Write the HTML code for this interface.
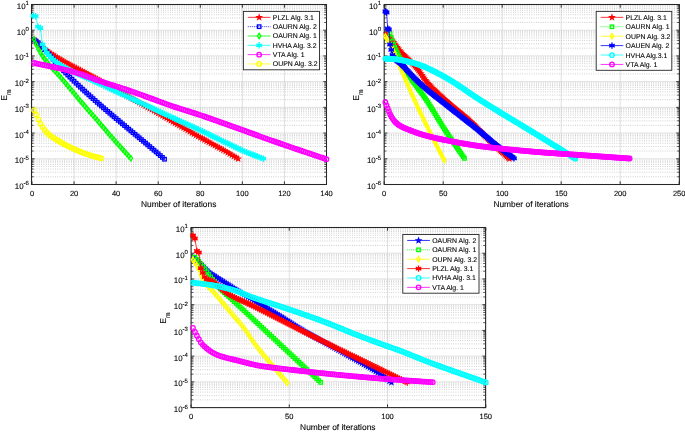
<!DOCTYPE html>
<html><head><meta charset="utf-8"><style>
html,body{margin:0;padding:0;background:#fff;}
svg{display:block;}
text{font-family:"Liberation Sans", sans-serif;fill:#000;stroke:#000;stroke-width:0.1px;text-rendering:geometricPrecision;}
.wrap{will-change:transform;}
</style></head><body>
<div class="wrap"><svg width="685" height="432" viewBox="0 0 685 432">
<rect width="685" height="432" fill="#fff"/>
<defs><marker id="pgr" markerUnits="userSpaceOnUse" viewBox="-5 -5 10 10" markerWidth="10" markerHeight="10" refX="0" refY="0" overflow="visible"><polygon points="0.00,-2.20 0.54,-0.74 2.09,-0.68 0.87,0.28 1.29,1.78 0.00,0.92 -1.29,1.78 -0.87,0.28 -2.09,-0.68 -0.54,-0.74" fill="none" stroke="#ff0000" stroke-width="1.3"/></marker><marker id="sqr" markerUnits="userSpaceOnUse" viewBox="-5 -5 10 10" markerWidth="10" markerHeight="10" refX="0" refY="0" overflow="visible"><rect x="-1.75" y="-1.75" width="3.5" height="3.5" fill="none" stroke="#ff0000" stroke-width="1.3"/></marker><marker id="dir" markerUnits="userSpaceOnUse" viewBox="-5 -5 10 10" markerWidth="10" markerHeight="10" refX="0" refY="0" overflow="visible"><polygon points="0,-2.7 1.6,0 0,2.7 -1.6,0" fill="none" stroke="#ff0000" stroke-width="1.3"/></marker><marker id="asr" markerUnits="userSpaceOnUse" viewBox="-5 -5 10 10" markerWidth="10" markerHeight="10" refX="0" refY="0" overflow="visible"><path d="M0,-3.2V3.2M-2.77,-1.6L2.77,1.6M-2.77,1.6L2.77,-1.6M-2.6,0H2.6" fill="none" stroke="#ff0000" stroke-width="1.3"/><circle r="1.5" fill="#ff0000"/></marker><marker id="cir" markerUnits="userSpaceOnUse" viewBox="-5 -5 10 10" markerWidth="10" markerHeight="10" refX="0" refY="0" overflow="visible"><circle r="2.25" fill="none" stroke="#ff0000" stroke-width="1.3"/></marker><marker id="pgg" markerUnits="userSpaceOnUse" viewBox="-5 -5 10 10" markerWidth="10" markerHeight="10" refX="0" refY="0" overflow="visible"><polygon points="0.00,-2.20 0.54,-0.74 2.09,-0.68 0.87,0.28 1.29,1.78 0.00,0.92 -1.29,1.78 -0.87,0.28 -2.09,-0.68 -0.54,-0.74" fill="none" stroke="#00ff00" stroke-width="1.3"/></marker><marker id="sqg" markerUnits="userSpaceOnUse" viewBox="-5 -5 10 10" markerWidth="10" markerHeight="10" refX="0" refY="0" overflow="visible"><rect x="-1.75" y="-1.75" width="3.5" height="3.5" fill="none" stroke="#00ff00" stroke-width="1.3"/></marker><marker id="dig" markerUnits="userSpaceOnUse" viewBox="-5 -5 10 10" markerWidth="10" markerHeight="10" refX="0" refY="0" overflow="visible"><polygon points="0,-2.7 1.6,0 0,2.7 -1.6,0" fill="none" stroke="#00ff00" stroke-width="1.3"/></marker><marker id="asg" markerUnits="userSpaceOnUse" viewBox="-5 -5 10 10" markerWidth="10" markerHeight="10" refX="0" refY="0" overflow="visible"><path d="M0,-3.2V3.2M-2.77,-1.6L2.77,1.6M-2.77,1.6L2.77,-1.6M-2.6,0H2.6" fill="none" stroke="#00ff00" stroke-width="1.3"/><circle r="1.5" fill="#00ff00"/></marker><marker id="cig" markerUnits="userSpaceOnUse" viewBox="-5 -5 10 10" markerWidth="10" markerHeight="10" refX="0" refY="0" overflow="visible"><circle r="2.25" fill="none" stroke="#00ff00" stroke-width="1.3"/></marker><marker id="pgb" markerUnits="userSpaceOnUse" viewBox="-5 -5 10 10" markerWidth="10" markerHeight="10" refX="0" refY="0" overflow="visible"><polygon points="0.00,-2.20 0.54,-0.74 2.09,-0.68 0.87,0.28 1.29,1.78 0.00,0.92 -1.29,1.78 -0.87,0.28 -2.09,-0.68 -0.54,-0.74" fill="none" stroke="#0000ff" stroke-width="1.3"/></marker><marker id="sqb" markerUnits="userSpaceOnUse" viewBox="-5 -5 10 10" markerWidth="10" markerHeight="10" refX="0" refY="0" overflow="visible"><rect x="-1.75" y="-1.75" width="3.5" height="3.5" fill="none" stroke="#0000ff" stroke-width="1.3"/></marker><marker id="dib" markerUnits="userSpaceOnUse" viewBox="-5 -5 10 10" markerWidth="10" markerHeight="10" refX="0" refY="0" overflow="visible"><polygon points="0,-2.7 1.6,0 0,2.7 -1.6,0" fill="none" stroke="#0000ff" stroke-width="1.3"/></marker><marker id="asb" markerUnits="userSpaceOnUse" viewBox="-5 -5 10 10" markerWidth="10" markerHeight="10" refX="0" refY="0" overflow="visible"><path d="M0,-3.2V3.2M-2.77,-1.6L2.77,1.6M-2.77,1.6L2.77,-1.6M-2.6,0H2.6" fill="none" stroke="#0000ff" stroke-width="1.3"/><circle r="1.5" fill="#0000ff"/></marker><marker id="cib" markerUnits="userSpaceOnUse" viewBox="-5 -5 10 10" markerWidth="10" markerHeight="10" refX="0" refY="0" overflow="visible"><circle r="2.25" fill="none" stroke="#0000ff" stroke-width="1.3"/></marker><marker id="pgc" markerUnits="userSpaceOnUse" viewBox="-5 -5 10 10" markerWidth="10" markerHeight="10" refX="0" refY="0" overflow="visible"><polygon points="0.00,-2.20 0.54,-0.74 2.09,-0.68 0.87,0.28 1.29,1.78 0.00,0.92 -1.29,1.78 -0.87,0.28 -2.09,-0.68 -0.54,-0.74" fill="none" stroke="#00ffff" stroke-width="1.3"/></marker><marker id="sqc" markerUnits="userSpaceOnUse" viewBox="-5 -5 10 10" markerWidth="10" markerHeight="10" refX="0" refY="0" overflow="visible"><rect x="-1.75" y="-1.75" width="3.5" height="3.5" fill="none" stroke="#00ffff" stroke-width="1.3"/></marker><marker id="dic" markerUnits="userSpaceOnUse" viewBox="-5 -5 10 10" markerWidth="10" markerHeight="10" refX="0" refY="0" overflow="visible"><polygon points="0,-2.7 1.6,0 0,2.7 -1.6,0" fill="none" stroke="#00ffff" stroke-width="1.3"/></marker><marker id="asc" markerUnits="userSpaceOnUse" viewBox="-5 -5 10 10" markerWidth="10" markerHeight="10" refX="0" refY="0" overflow="visible"><path d="M0,-3.2V3.2M-2.77,-1.6L2.77,1.6M-2.77,1.6L2.77,-1.6M-2.6,0H2.6" fill="none" stroke="#00ffff" stroke-width="1.3"/><circle r="1.5" fill="#00ffff"/></marker><marker id="cic" markerUnits="userSpaceOnUse" viewBox="-5 -5 10 10" markerWidth="10" markerHeight="10" refX="0" refY="0" overflow="visible"><circle r="2.25" fill="none" stroke="#00ffff" stroke-width="1.3"/></marker><marker id="pgm" markerUnits="userSpaceOnUse" viewBox="-5 -5 10 10" markerWidth="10" markerHeight="10" refX="0" refY="0" overflow="visible"><polygon points="0.00,-2.20 0.54,-0.74 2.09,-0.68 0.87,0.28 1.29,1.78 0.00,0.92 -1.29,1.78 -0.87,0.28 -2.09,-0.68 -0.54,-0.74" fill="none" stroke="#ff00ff" stroke-width="1.3"/></marker><marker id="sqm" markerUnits="userSpaceOnUse" viewBox="-5 -5 10 10" markerWidth="10" markerHeight="10" refX="0" refY="0" overflow="visible"><rect x="-1.75" y="-1.75" width="3.5" height="3.5" fill="none" stroke="#ff00ff" stroke-width="1.3"/></marker><marker id="dim" markerUnits="userSpaceOnUse" viewBox="-5 -5 10 10" markerWidth="10" markerHeight="10" refX="0" refY="0" overflow="visible"><polygon points="0,-2.7 1.6,0 0,2.7 -1.6,0" fill="none" stroke="#ff00ff" stroke-width="1.3"/></marker><marker id="asm" markerUnits="userSpaceOnUse" viewBox="-5 -5 10 10" markerWidth="10" markerHeight="10" refX="0" refY="0" overflow="visible"><path d="M0,-3.2V3.2M-2.77,-1.6L2.77,1.6M-2.77,1.6L2.77,-1.6M-2.6,0H2.6" fill="none" stroke="#ff00ff" stroke-width="1.3"/><circle r="1.5" fill="#ff00ff"/></marker><marker id="cim" markerUnits="userSpaceOnUse" viewBox="-5 -5 10 10" markerWidth="10" markerHeight="10" refX="0" refY="0" overflow="visible"><circle r="2.25" fill="none" stroke="#ff00ff" stroke-width="1.3"/></marker><marker id="pgy" markerUnits="userSpaceOnUse" viewBox="-5 -5 10 10" markerWidth="10" markerHeight="10" refX="0" refY="0" overflow="visible"><polygon points="0.00,-2.20 0.54,-0.74 2.09,-0.68 0.87,0.28 1.29,1.78 0.00,0.92 -1.29,1.78 -0.87,0.28 -2.09,-0.68 -0.54,-0.74" fill="none" stroke="#ffff00" stroke-width="1.3"/></marker><marker id="sqy" markerUnits="userSpaceOnUse" viewBox="-5 -5 10 10" markerWidth="10" markerHeight="10" refX="0" refY="0" overflow="visible"><rect x="-1.75" y="-1.75" width="3.5" height="3.5" fill="none" stroke="#ffff00" stroke-width="1.3"/></marker><marker id="diy" markerUnits="userSpaceOnUse" viewBox="-5 -5 10 10" markerWidth="10" markerHeight="10" refX="0" refY="0" overflow="visible"><polygon points="0,-2.7 1.6,0 0,2.7 -1.6,0" fill="none" stroke="#ffff00" stroke-width="1.3"/></marker><marker id="asy" markerUnits="userSpaceOnUse" viewBox="-5 -5 10 10" markerWidth="10" markerHeight="10" refX="0" refY="0" overflow="visible"><path d="M0,-3.2V3.2M-2.77,-1.6L2.77,1.6M-2.77,1.6L2.77,-1.6M-2.6,0H2.6" fill="none" stroke="#ffff00" stroke-width="1.3"/><circle r="1.5" fill="#ffff00"/></marker><marker id="ciy" markerUnits="userSpaceOnUse" viewBox="-5 -5 10 10" markerWidth="10" markerHeight="10" refX="0" refY="0" overflow="visible"><circle r="2.25" fill="none" stroke="#ffff00" stroke-width="1.3"/></marker></defs>
<line x1="32.00" y1="4.50" x2="326.50" y2="4.50" stroke="#dcdcdc" stroke-width="0.9"/>
<line x1="32.00" y1="30.21" x2="326.50" y2="30.21" stroke="#dcdcdc" stroke-width="0.9"/>
<line x1="32.00" y1="55.93" x2="326.50" y2="55.93" stroke="#dcdcdc" stroke-width="0.9"/>
<line x1="32.00" y1="81.64" x2="326.50" y2="81.64" stroke="#dcdcdc" stroke-width="0.9"/>
<line x1="32.00" y1="107.36" x2="326.50" y2="107.36" stroke="#dcdcdc" stroke-width="0.9"/>
<line x1="32.00" y1="133.07" x2="326.50" y2="133.07" stroke="#dcdcdc" stroke-width="0.9"/>
<line x1="32.00" y1="158.79" x2="326.50" y2="158.79" stroke="#dcdcdc" stroke-width="0.9"/>
<line x1="32.00" y1="184.50" x2="326.50" y2="184.50" stroke="#dcdcdc" stroke-width="0.9"/>
<line x1="32.00" y1="4.50" x2="32.00" y2="184.50" stroke="#dcdcdc" stroke-width="0.9"/>
<line x1="74.07" y1="4.50" x2="74.07" y2="184.50" stroke="#dcdcdc" stroke-width="0.9"/>
<line x1="116.14" y1="4.50" x2="116.14" y2="184.50" stroke="#dcdcdc" stroke-width="0.9"/>
<line x1="158.21" y1="4.50" x2="158.21" y2="184.50" stroke="#dcdcdc" stroke-width="0.9"/>
<line x1="200.29" y1="4.50" x2="200.29" y2="184.50" stroke="#dcdcdc" stroke-width="0.9"/>
<line x1="242.36" y1="4.50" x2="242.36" y2="184.50" stroke="#dcdcdc" stroke-width="0.9"/>
<line x1="284.43" y1="4.50" x2="284.43" y2="184.50" stroke="#dcdcdc" stroke-width="0.9"/>
<line x1="326.50" y1="4.50" x2="326.50" y2="184.50" stroke="#dcdcdc" stroke-width="0.9"/>
<line x1="32.00" y1="22.47" x2="326.50" y2="22.47" stroke="#b8b8b8" stroke-width="0.8" stroke-dasharray="0.8 1.5"/>
<line x1="32.00" y1="17.95" x2="326.50" y2="17.95" stroke="#b8b8b8" stroke-width="0.8" stroke-dasharray="0.8 1.5"/>
<line x1="32.00" y1="14.73" x2="326.50" y2="14.73" stroke="#b8b8b8" stroke-width="0.8" stroke-dasharray="0.8 1.5"/>
<line x1="32.00" y1="12.24" x2="326.50" y2="12.24" stroke="#b8b8b8" stroke-width="0.8" stroke-dasharray="0.8 1.5"/>
<line x1="32.00" y1="10.20" x2="326.50" y2="10.20" stroke="#b8b8b8" stroke-width="0.8" stroke-dasharray="0.8 1.5"/>
<line x1="32.00" y1="8.48" x2="326.50" y2="8.48" stroke="#b8b8b8" stroke-width="0.8" stroke-dasharray="0.8 1.5"/>
<line x1="32.00" y1="6.99" x2="326.50" y2="6.99" stroke="#b8b8b8" stroke-width="0.8" stroke-dasharray="0.8 1.5"/>
<line x1="32.00" y1="5.68" x2="326.50" y2="5.68" stroke="#b8b8b8" stroke-width="0.8" stroke-dasharray="0.8 1.5"/>
<line x1="32.00" y1="48.19" x2="326.50" y2="48.19" stroke="#b8b8b8" stroke-width="0.8" stroke-dasharray="0.8 1.5"/>
<line x1="32.00" y1="43.66" x2="326.50" y2="43.66" stroke="#b8b8b8" stroke-width="0.8" stroke-dasharray="0.8 1.5"/>
<line x1="32.00" y1="40.45" x2="326.50" y2="40.45" stroke="#b8b8b8" stroke-width="0.8" stroke-dasharray="0.8 1.5"/>
<line x1="32.00" y1="37.96" x2="326.50" y2="37.96" stroke="#b8b8b8" stroke-width="0.8" stroke-dasharray="0.8 1.5"/>
<line x1="32.00" y1="35.92" x2="326.50" y2="35.92" stroke="#b8b8b8" stroke-width="0.8" stroke-dasharray="0.8 1.5"/>
<line x1="32.00" y1="34.20" x2="326.50" y2="34.20" stroke="#b8b8b8" stroke-width="0.8" stroke-dasharray="0.8 1.5"/>
<line x1="32.00" y1="32.71" x2="326.50" y2="32.71" stroke="#b8b8b8" stroke-width="0.8" stroke-dasharray="0.8 1.5"/>
<line x1="32.00" y1="31.39" x2="326.50" y2="31.39" stroke="#b8b8b8" stroke-width="0.8" stroke-dasharray="0.8 1.5"/>
<line x1="32.00" y1="73.90" x2="326.50" y2="73.90" stroke="#b8b8b8" stroke-width="0.8" stroke-dasharray="0.8 1.5"/>
<line x1="32.00" y1="69.37" x2="326.50" y2="69.37" stroke="#b8b8b8" stroke-width="0.8" stroke-dasharray="0.8 1.5"/>
<line x1="32.00" y1="66.16" x2="326.50" y2="66.16" stroke="#b8b8b8" stroke-width="0.8" stroke-dasharray="0.8 1.5"/>
<line x1="32.00" y1="63.67" x2="326.50" y2="63.67" stroke="#b8b8b8" stroke-width="0.8" stroke-dasharray="0.8 1.5"/>
<line x1="32.00" y1="61.63" x2="326.50" y2="61.63" stroke="#b8b8b8" stroke-width="0.8" stroke-dasharray="0.8 1.5"/>
<line x1="32.00" y1="59.91" x2="326.50" y2="59.91" stroke="#b8b8b8" stroke-width="0.8" stroke-dasharray="0.8 1.5"/>
<line x1="32.00" y1="58.42" x2="326.50" y2="58.42" stroke="#b8b8b8" stroke-width="0.8" stroke-dasharray="0.8 1.5"/>
<line x1="32.00" y1="57.11" x2="326.50" y2="57.11" stroke="#b8b8b8" stroke-width="0.8" stroke-dasharray="0.8 1.5"/>
<line x1="32.00" y1="99.62" x2="326.50" y2="99.62" stroke="#b8b8b8" stroke-width="0.8" stroke-dasharray="0.8 1.5"/>
<line x1="32.00" y1="95.09" x2="326.50" y2="95.09" stroke="#b8b8b8" stroke-width="0.8" stroke-dasharray="0.8 1.5"/>
<line x1="32.00" y1="91.88" x2="326.50" y2="91.88" stroke="#b8b8b8" stroke-width="0.8" stroke-dasharray="0.8 1.5"/>
<line x1="32.00" y1="89.38" x2="326.50" y2="89.38" stroke="#b8b8b8" stroke-width="0.8" stroke-dasharray="0.8 1.5"/>
<line x1="32.00" y1="87.35" x2="326.50" y2="87.35" stroke="#b8b8b8" stroke-width="0.8" stroke-dasharray="0.8 1.5"/>
<line x1="32.00" y1="85.63" x2="326.50" y2="85.63" stroke="#b8b8b8" stroke-width="0.8" stroke-dasharray="0.8 1.5"/>
<line x1="32.00" y1="84.13" x2="326.50" y2="84.13" stroke="#b8b8b8" stroke-width="0.8" stroke-dasharray="0.8 1.5"/>
<line x1="32.00" y1="82.82" x2="326.50" y2="82.82" stroke="#b8b8b8" stroke-width="0.8" stroke-dasharray="0.8 1.5"/>
<line x1="32.00" y1="125.33" x2="326.50" y2="125.33" stroke="#b8b8b8" stroke-width="0.8" stroke-dasharray="0.8 1.5"/>
<line x1="32.00" y1="120.80" x2="326.50" y2="120.80" stroke="#b8b8b8" stroke-width="0.8" stroke-dasharray="0.8 1.5"/>
<line x1="32.00" y1="117.59" x2="326.50" y2="117.59" stroke="#b8b8b8" stroke-width="0.8" stroke-dasharray="0.8 1.5"/>
<line x1="32.00" y1="115.10" x2="326.50" y2="115.10" stroke="#b8b8b8" stroke-width="0.8" stroke-dasharray="0.8 1.5"/>
<line x1="32.00" y1="113.06" x2="326.50" y2="113.06" stroke="#b8b8b8" stroke-width="0.8" stroke-dasharray="0.8 1.5"/>
<line x1="32.00" y1="111.34" x2="326.50" y2="111.34" stroke="#b8b8b8" stroke-width="0.8" stroke-dasharray="0.8 1.5"/>
<line x1="32.00" y1="109.85" x2="326.50" y2="109.85" stroke="#b8b8b8" stroke-width="0.8" stroke-dasharray="0.8 1.5"/>
<line x1="32.00" y1="108.53" x2="326.50" y2="108.53" stroke="#b8b8b8" stroke-width="0.8" stroke-dasharray="0.8 1.5"/>
<line x1="32.00" y1="151.04" x2="326.50" y2="151.04" stroke="#b8b8b8" stroke-width="0.8" stroke-dasharray="0.8 1.5"/>
<line x1="32.00" y1="146.52" x2="326.50" y2="146.52" stroke="#b8b8b8" stroke-width="0.8" stroke-dasharray="0.8 1.5"/>
<line x1="32.00" y1="143.30" x2="326.50" y2="143.30" stroke="#b8b8b8" stroke-width="0.8" stroke-dasharray="0.8 1.5"/>
<line x1="32.00" y1="140.81" x2="326.50" y2="140.81" stroke="#b8b8b8" stroke-width="0.8" stroke-dasharray="0.8 1.5"/>
<line x1="32.00" y1="138.78" x2="326.50" y2="138.78" stroke="#b8b8b8" stroke-width="0.8" stroke-dasharray="0.8 1.5"/>
<line x1="32.00" y1="137.05" x2="326.50" y2="137.05" stroke="#b8b8b8" stroke-width="0.8" stroke-dasharray="0.8 1.5"/>
<line x1="32.00" y1="135.56" x2="326.50" y2="135.56" stroke="#b8b8b8" stroke-width="0.8" stroke-dasharray="0.8 1.5"/>
<line x1="32.00" y1="134.25" x2="326.50" y2="134.25" stroke="#b8b8b8" stroke-width="0.8" stroke-dasharray="0.8 1.5"/>
<line x1="32.00" y1="176.76" x2="326.50" y2="176.76" stroke="#b8b8b8" stroke-width="0.8" stroke-dasharray="0.8 1.5"/>
<line x1="32.00" y1="172.23" x2="326.50" y2="172.23" stroke="#b8b8b8" stroke-width="0.8" stroke-dasharray="0.8 1.5"/>
<line x1="32.00" y1="169.02" x2="326.50" y2="169.02" stroke="#b8b8b8" stroke-width="0.8" stroke-dasharray="0.8 1.5"/>
<line x1="32.00" y1="166.53" x2="326.50" y2="166.53" stroke="#b8b8b8" stroke-width="0.8" stroke-dasharray="0.8 1.5"/>
<line x1="32.00" y1="164.49" x2="326.50" y2="164.49" stroke="#b8b8b8" stroke-width="0.8" stroke-dasharray="0.8 1.5"/>
<line x1="32.00" y1="162.77" x2="326.50" y2="162.77" stroke="#b8b8b8" stroke-width="0.8" stroke-dasharray="0.8 1.5"/>
<line x1="32.00" y1="161.28" x2="326.50" y2="161.28" stroke="#b8b8b8" stroke-width="0.8" stroke-dasharray="0.8 1.5"/>
<line x1="32.00" y1="159.96" x2="326.50" y2="159.96" stroke="#b8b8b8" stroke-width="0.8" stroke-dasharray="0.8 1.5"/>
<line x1="384.20" y1="4.50" x2="679.20" y2="4.50" stroke="#dcdcdc" stroke-width="0.9"/>
<line x1="384.20" y1="30.21" x2="679.20" y2="30.21" stroke="#dcdcdc" stroke-width="0.9"/>
<line x1="384.20" y1="55.93" x2="679.20" y2="55.93" stroke="#dcdcdc" stroke-width="0.9"/>
<line x1="384.20" y1="81.64" x2="679.20" y2="81.64" stroke="#dcdcdc" stroke-width="0.9"/>
<line x1="384.20" y1="107.36" x2="679.20" y2="107.36" stroke="#dcdcdc" stroke-width="0.9"/>
<line x1="384.20" y1="133.07" x2="679.20" y2="133.07" stroke="#dcdcdc" stroke-width="0.9"/>
<line x1="384.20" y1="158.79" x2="679.20" y2="158.79" stroke="#dcdcdc" stroke-width="0.9"/>
<line x1="384.20" y1="184.50" x2="679.20" y2="184.50" stroke="#dcdcdc" stroke-width="0.9"/>
<line x1="384.20" y1="4.50" x2="384.20" y2="184.50" stroke="#dcdcdc" stroke-width="0.9"/>
<line x1="443.20" y1="4.50" x2="443.20" y2="184.50" stroke="#dcdcdc" stroke-width="0.9"/>
<line x1="502.20" y1="4.50" x2="502.20" y2="184.50" stroke="#dcdcdc" stroke-width="0.9"/>
<line x1="561.20" y1="4.50" x2="561.20" y2="184.50" stroke="#dcdcdc" stroke-width="0.9"/>
<line x1="620.20" y1="4.50" x2="620.20" y2="184.50" stroke="#dcdcdc" stroke-width="0.9"/>
<line x1="679.20" y1="4.50" x2="679.20" y2="184.50" stroke="#dcdcdc" stroke-width="0.9"/>
<line x1="384.20" y1="22.47" x2="679.20" y2="22.47" stroke="#b8b8b8" stroke-width="0.8" stroke-dasharray="0.8 1.5"/>
<line x1="384.20" y1="17.95" x2="679.20" y2="17.95" stroke="#b8b8b8" stroke-width="0.8" stroke-dasharray="0.8 1.5"/>
<line x1="384.20" y1="14.73" x2="679.20" y2="14.73" stroke="#b8b8b8" stroke-width="0.8" stroke-dasharray="0.8 1.5"/>
<line x1="384.20" y1="12.24" x2="679.20" y2="12.24" stroke="#b8b8b8" stroke-width="0.8" stroke-dasharray="0.8 1.5"/>
<line x1="384.20" y1="10.20" x2="679.20" y2="10.20" stroke="#b8b8b8" stroke-width="0.8" stroke-dasharray="0.8 1.5"/>
<line x1="384.20" y1="8.48" x2="679.20" y2="8.48" stroke="#b8b8b8" stroke-width="0.8" stroke-dasharray="0.8 1.5"/>
<line x1="384.20" y1="6.99" x2="679.20" y2="6.99" stroke="#b8b8b8" stroke-width="0.8" stroke-dasharray="0.8 1.5"/>
<line x1="384.20" y1="5.68" x2="679.20" y2="5.68" stroke="#b8b8b8" stroke-width="0.8" stroke-dasharray="0.8 1.5"/>
<line x1="384.20" y1="48.19" x2="679.20" y2="48.19" stroke="#b8b8b8" stroke-width="0.8" stroke-dasharray="0.8 1.5"/>
<line x1="384.20" y1="43.66" x2="679.20" y2="43.66" stroke="#b8b8b8" stroke-width="0.8" stroke-dasharray="0.8 1.5"/>
<line x1="384.20" y1="40.45" x2="679.20" y2="40.45" stroke="#b8b8b8" stroke-width="0.8" stroke-dasharray="0.8 1.5"/>
<line x1="384.20" y1="37.96" x2="679.20" y2="37.96" stroke="#b8b8b8" stroke-width="0.8" stroke-dasharray="0.8 1.5"/>
<line x1="384.20" y1="35.92" x2="679.20" y2="35.92" stroke="#b8b8b8" stroke-width="0.8" stroke-dasharray="0.8 1.5"/>
<line x1="384.20" y1="34.20" x2="679.20" y2="34.20" stroke="#b8b8b8" stroke-width="0.8" stroke-dasharray="0.8 1.5"/>
<line x1="384.20" y1="32.71" x2="679.20" y2="32.71" stroke="#b8b8b8" stroke-width="0.8" stroke-dasharray="0.8 1.5"/>
<line x1="384.20" y1="31.39" x2="679.20" y2="31.39" stroke="#b8b8b8" stroke-width="0.8" stroke-dasharray="0.8 1.5"/>
<line x1="384.20" y1="73.90" x2="679.20" y2="73.90" stroke="#b8b8b8" stroke-width="0.8" stroke-dasharray="0.8 1.5"/>
<line x1="384.20" y1="69.37" x2="679.20" y2="69.37" stroke="#b8b8b8" stroke-width="0.8" stroke-dasharray="0.8 1.5"/>
<line x1="384.20" y1="66.16" x2="679.20" y2="66.16" stroke="#b8b8b8" stroke-width="0.8" stroke-dasharray="0.8 1.5"/>
<line x1="384.20" y1="63.67" x2="679.20" y2="63.67" stroke="#b8b8b8" stroke-width="0.8" stroke-dasharray="0.8 1.5"/>
<line x1="384.20" y1="61.63" x2="679.20" y2="61.63" stroke="#b8b8b8" stroke-width="0.8" stroke-dasharray="0.8 1.5"/>
<line x1="384.20" y1="59.91" x2="679.20" y2="59.91" stroke="#b8b8b8" stroke-width="0.8" stroke-dasharray="0.8 1.5"/>
<line x1="384.20" y1="58.42" x2="679.20" y2="58.42" stroke="#b8b8b8" stroke-width="0.8" stroke-dasharray="0.8 1.5"/>
<line x1="384.20" y1="57.11" x2="679.20" y2="57.11" stroke="#b8b8b8" stroke-width="0.8" stroke-dasharray="0.8 1.5"/>
<line x1="384.20" y1="99.62" x2="679.20" y2="99.62" stroke="#b8b8b8" stroke-width="0.8" stroke-dasharray="0.8 1.5"/>
<line x1="384.20" y1="95.09" x2="679.20" y2="95.09" stroke="#b8b8b8" stroke-width="0.8" stroke-dasharray="0.8 1.5"/>
<line x1="384.20" y1="91.88" x2="679.20" y2="91.88" stroke="#b8b8b8" stroke-width="0.8" stroke-dasharray="0.8 1.5"/>
<line x1="384.20" y1="89.38" x2="679.20" y2="89.38" stroke="#b8b8b8" stroke-width="0.8" stroke-dasharray="0.8 1.5"/>
<line x1="384.20" y1="87.35" x2="679.20" y2="87.35" stroke="#b8b8b8" stroke-width="0.8" stroke-dasharray="0.8 1.5"/>
<line x1="384.20" y1="85.63" x2="679.20" y2="85.63" stroke="#b8b8b8" stroke-width="0.8" stroke-dasharray="0.8 1.5"/>
<line x1="384.20" y1="84.13" x2="679.20" y2="84.13" stroke="#b8b8b8" stroke-width="0.8" stroke-dasharray="0.8 1.5"/>
<line x1="384.20" y1="82.82" x2="679.20" y2="82.82" stroke="#b8b8b8" stroke-width="0.8" stroke-dasharray="0.8 1.5"/>
<line x1="384.20" y1="125.33" x2="679.20" y2="125.33" stroke="#b8b8b8" stroke-width="0.8" stroke-dasharray="0.8 1.5"/>
<line x1="384.20" y1="120.80" x2="679.20" y2="120.80" stroke="#b8b8b8" stroke-width="0.8" stroke-dasharray="0.8 1.5"/>
<line x1="384.20" y1="117.59" x2="679.20" y2="117.59" stroke="#b8b8b8" stroke-width="0.8" stroke-dasharray="0.8 1.5"/>
<line x1="384.20" y1="115.10" x2="679.20" y2="115.10" stroke="#b8b8b8" stroke-width="0.8" stroke-dasharray="0.8 1.5"/>
<line x1="384.20" y1="113.06" x2="679.20" y2="113.06" stroke="#b8b8b8" stroke-width="0.8" stroke-dasharray="0.8 1.5"/>
<line x1="384.20" y1="111.34" x2="679.20" y2="111.34" stroke="#b8b8b8" stroke-width="0.8" stroke-dasharray="0.8 1.5"/>
<line x1="384.20" y1="109.85" x2="679.20" y2="109.85" stroke="#b8b8b8" stroke-width="0.8" stroke-dasharray="0.8 1.5"/>
<line x1="384.20" y1="108.53" x2="679.20" y2="108.53" stroke="#b8b8b8" stroke-width="0.8" stroke-dasharray="0.8 1.5"/>
<line x1="384.20" y1="151.04" x2="679.20" y2="151.04" stroke="#b8b8b8" stroke-width="0.8" stroke-dasharray="0.8 1.5"/>
<line x1="384.20" y1="146.52" x2="679.20" y2="146.52" stroke="#b8b8b8" stroke-width="0.8" stroke-dasharray="0.8 1.5"/>
<line x1="384.20" y1="143.30" x2="679.20" y2="143.30" stroke="#b8b8b8" stroke-width="0.8" stroke-dasharray="0.8 1.5"/>
<line x1="384.20" y1="140.81" x2="679.20" y2="140.81" stroke="#b8b8b8" stroke-width="0.8" stroke-dasharray="0.8 1.5"/>
<line x1="384.20" y1="138.78" x2="679.20" y2="138.78" stroke="#b8b8b8" stroke-width="0.8" stroke-dasharray="0.8 1.5"/>
<line x1="384.20" y1="137.05" x2="679.20" y2="137.05" stroke="#b8b8b8" stroke-width="0.8" stroke-dasharray="0.8 1.5"/>
<line x1="384.20" y1="135.56" x2="679.20" y2="135.56" stroke="#b8b8b8" stroke-width="0.8" stroke-dasharray="0.8 1.5"/>
<line x1="384.20" y1="134.25" x2="679.20" y2="134.25" stroke="#b8b8b8" stroke-width="0.8" stroke-dasharray="0.8 1.5"/>
<line x1="384.20" y1="176.76" x2="679.20" y2="176.76" stroke="#b8b8b8" stroke-width="0.8" stroke-dasharray="0.8 1.5"/>
<line x1="384.20" y1="172.23" x2="679.20" y2="172.23" stroke="#b8b8b8" stroke-width="0.8" stroke-dasharray="0.8 1.5"/>
<line x1="384.20" y1="169.02" x2="679.20" y2="169.02" stroke="#b8b8b8" stroke-width="0.8" stroke-dasharray="0.8 1.5"/>
<line x1="384.20" y1="166.53" x2="679.20" y2="166.53" stroke="#b8b8b8" stroke-width="0.8" stroke-dasharray="0.8 1.5"/>
<line x1="384.20" y1="164.49" x2="679.20" y2="164.49" stroke="#b8b8b8" stroke-width="0.8" stroke-dasharray="0.8 1.5"/>
<line x1="384.20" y1="162.77" x2="679.20" y2="162.77" stroke="#b8b8b8" stroke-width="0.8" stroke-dasharray="0.8 1.5"/>
<line x1="384.20" y1="161.28" x2="679.20" y2="161.28" stroke="#b8b8b8" stroke-width="0.8" stroke-dasharray="0.8 1.5"/>
<line x1="384.20" y1="159.96" x2="679.20" y2="159.96" stroke="#b8b8b8" stroke-width="0.8" stroke-dasharray="0.8 1.5"/>
<line x1="191.00" y1="227.50" x2="485.80" y2="227.50" stroke="#dcdcdc" stroke-width="0.9"/>
<line x1="191.00" y1="253.23" x2="485.80" y2="253.23" stroke="#dcdcdc" stroke-width="0.9"/>
<line x1="191.00" y1="278.96" x2="485.80" y2="278.96" stroke="#dcdcdc" stroke-width="0.9"/>
<line x1="191.00" y1="304.69" x2="485.80" y2="304.69" stroke="#dcdcdc" stroke-width="0.9"/>
<line x1="191.00" y1="330.41" x2="485.80" y2="330.41" stroke="#dcdcdc" stroke-width="0.9"/>
<line x1="191.00" y1="356.14" x2="485.80" y2="356.14" stroke="#dcdcdc" stroke-width="0.9"/>
<line x1="191.00" y1="381.87" x2="485.80" y2="381.87" stroke="#dcdcdc" stroke-width="0.9"/>
<line x1="191.00" y1="407.60" x2="485.80" y2="407.60" stroke="#dcdcdc" stroke-width="0.9"/>
<line x1="191.00" y1="227.50" x2="191.00" y2="407.60" stroke="#dcdcdc" stroke-width="0.9"/>
<line x1="289.27" y1="227.50" x2="289.27" y2="407.60" stroke="#dcdcdc" stroke-width="0.9"/>
<line x1="387.53" y1="227.50" x2="387.53" y2="407.60" stroke="#dcdcdc" stroke-width="0.9"/>
<line x1="485.80" y1="227.50" x2="485.80" y2="407.60" stroke="#dcdcdc" stroke-width="0.9"/>
<line x1="191.00" y1="245.48" x2="485.80" y2="245.48" stroke="#b8b8b8" stroke-width="0.8" stroke-dasharray="0.8 1.5"/>
<line x1="191.00" y1="240.95" x2="485.80" y2="240.95" stroke="#b8b8b8" stroke-width="0.8" stroke-dasharray="0.8 1.5"/>
<line x1="191.00" y1="237.74" x2="485.80" y2="237.74" stroke="#b8b8b8" stroke-width="0.8" stroke-dasharray="0.8 1.5"/>
<line x1="191.00" y1="235.25" x2="485.80" y2="235.25" stroke="#b8b8b8" stroke-width="0.8" stroke-dasharray="0.8 1.5"/>
<line x1="191.00" y1="233.21" x2="485.80" y2="233.21" stroke="#b8b8b8" stroke-width="0.8" stroke-dasharray="0.8 1.5"/>
<line x1="191.00" y1="231.49" x2="485.80" y2="231.49" stroke="#b8b8b8" stroke-width="0.8" stroke-dasharray="0.8 1.5"/>
<line x1="191.00" y1="229.99" x2="485.80" y2="229.99" stroke="#b8b8b8" stroke-width="0.8" stroke-dasharray="0.8 1.5"/>
<line x1="191.00" y1="228.68" x2="485.80" y2="228.68" stroke="#b8b8b8" stroke-width="0.8" stroke-dasharray="0.8 1.5"/>
<line x1="191.00" y1="271.21" x2="485.80" y2="271.21" stroke="#b8b8b8" stroke-width="0.8" stroke-dasharray="0.8 1.5"/>
<line x1="191.00" y1="266.68" x2="485.80" y2="266.68" stroke="#b8b8b8" stroke-width="0.8" stroke-dasharray="0.8 1.5"/>
<line x1="191.00" y1="263.47" x2="485.80" y2="263.47" stroke="#b8b8b8" stroke-width="0.8" stroke-dasharray="0.8 1.5"/>
<line x1="191.00" y1="260.97" x2="485.80" y2="260.97" stroke="#b8b8b8" stroke-width="0.8" stroke-dasharray="0.8 1.5"/>
<line x1="191.00" y1="258.94" x2="485.80" y2="258.94" stroke="#b8b8b8" stroke-width="0.8" stroke-dasharray="0.8 1.5"/>
<line x1="191.00" y1="257.21" x2="485.80" y2="257.21" stroke="#b8b8b8" stroke-width="0.8" stroke-dasharray="0.8 1.5"/>
<line x1="191.00" y1="255.72" x2="485.80" y2="255.72" stroke="#b8b8b8" stroke-width="0.8" stroke-dasharray="0.8 1.5"/>
<line x1="191.00" y1="254.41" x2="485.80" y2="254.41" stroke="#b8b8b8" stroke-width="0.8" stroke-dasharray="0.8 1.5"/>
<line x1="191.00" y1="296.94" x2="485.80" y2="296.94" stroke="#b8b8b8" stroke-width="0.8" stroke-dasharray="0.8 1.5"/>
<line x1="191.00" y1="292.41" x2="485.80" y2="292.41" stroke="#b8b8b8" stroke-width="0.8" stroke-dasharray="0.8 1.5"/>
<line x1="191.00" y1="289.20" x2="485.80" y2="289.20" stroke="#b8b8b8" stroke-width="0.8" stroke-dasharray="0.8 1.5"/>
<line x1="191.00" y1="286.70" x2="485.80" y2="286.70" stroke="#b8b8b8" stroke-width="0.8" stroke-dasharray="0.8 1.5"/>
<line x1="191.00" y1="284.66" x2="485.80" y2="284.66" stroke="#b8b8b8" stroke-width="0.8" stroke-dasharray="0.8 1.5"/>
<line x1="191.00" y1="282.94" x2="485.80" y2="282.94" stroke="#b8b8b8" stroke-width="0.8" stroke-dasharray="0.8 1.5"/>
<line x1="191.00" y1="281.45" x2="485.80" y2="281.45" stroke="#b8b8b8" stroke-width="0.8" stroke-dasharray="0.8 1.5"/>
<line x1="191.00" y1="280.13" x2="485.80" y2="280.13" stroke="#b8b8b8" stroke-width="0.8" stroke-dasharray="0.8 1.5"/>
<line x1="191.00" y1="322.67" x2="485.80" y2="322.67" stroke="#b8b8b8" stroke-width="0.8" stroke-dasharray="0.8 1.5"/>
<line x1="191.00" y1="318.14" x2="485.80" y2="318.14" stroke="#b8b8b8" stroke-width="0.8" stroke-dasharray="0.8 1.5"/>
<line x1="191.00" y1="314.92" x2="485.80" y2="314.92" stroke="#b8b8b8" stroke-width="0.8" stroke-dasharray="0.8 1.5"/>
<line x1="191.00" y1="312.43" x2="485.80" y2="312.43" stroke="#b8b8b8" stroke-width="0.8" stroke-dasharray="0.8 1.5"/>
<line x1="191.00" y1="310.39" x2="485.80" y2="310.39" stroke="#b8b8b8" stroke-width="0.8" stroke-dasharray="0.8 1.5"/>
<line x1="191.00" y1="308.67" x2="485.80" y2="308.67" stroke="#b8b8b8" stroke-width="0.8" stroke-dasharray="0.8 1.5"/>
<line x1="191.00" y1="307.18" x2="485.80" y2="307.18" stroke="#b8b8b8" stroke-width="0.8" stroke-dasharray="0.8 1.5"/>
<line x1="191.00" y1="305.86" x2="485.80" y2="305.86" stroke="#b8b8b8" stroke-width="0.8" stroke-dasharray="0.8 1.5"/>
<line x1="191.00" y1="348.40" x2="485.80" y2="348.40" stroke="#b8b8b8" stroke-width="0.8" stroke-dasharray="0.8 1.5"/>
<line x1="191.00" y1="343.87" x2="485.80" y2="343.87" stroke="#b8b8b8" stroke-width="0.8" stroke-dasharray="0.8 1.5"/>
<line x1="191.00" y1="340.65" x2="485.80" y2="340.65" stroke="#b8b8b8" stroke-width="0.8" stroke-dasharray="0.8 1.5"/>
<line x1="191.00" y1="338.16" x2="485.80" y2="338.16" stroke="#b8b8b8" stroke-width="0.8" stroke-dasharray="0.8 1.5"/>
<line x1="191.00" y1="336.12" x2="485.80" y2="336.12" stroke="#b8b8b8" stroke-width="0.8" stroke-dasharray="0.8 1.5"/>
<line x1="191.00" y1="334.40" x2="485.80" y2="334.40" stroke="#b8b8b8" stroke-width="0.8" stroke-dasharray="0.8 1.5"/>
<line x1="191.00" y1="332.91" x2="485.80" y2="332.91" stroke="#b8b8b8" stroke-width="0.8" stroke-dasharray="0.8 1.5"/>
<line x1="191.00" y1="331.59" x2="485.80" y2="331.59" stroke="#b8b8b8" stroke-width="0.8" stroke-dasharray="0.8 1.5"/>
<line x1="191.00" y1="374.13" x2="485.80" y2="374.13" stroke="#b8b8b8" stroke-width="0.8" stroke-dasharray="0.8 1.5"/>
<line x1="191.00" y1="369.60" x2="485.80" y2="369.60" stroke="#b8b8b8" stroke-width="0.8" stroke-dasharray="0.8 1.5"/>
<line x1="191.00" y1="366.38" x2="485.80" y2="366.38" stroke="#b8b8b8" stroke-width="0.8" stroke-dasharray="0.8 1.5"/>
<line x1="191.00" y1="363.89" x2="485.80" y2="363.89" stroke="#b8b8b8" stroke-width="0.8" stroke-dasharray="0.8 1.5"/>
<line x1="191.00" y1="361.85" x2="485.80" y2="361.85" stroke="#b8b8b8" stroke-width="0.8" stroke-dasharray="0.8 1.5"/>
<line x1="191.00" y1="360.13" x2="485.80" y2="360.13" stroke="#b8b8b8" stroke-width="0.8" stroke-dasharray="0.8 1.5"/>
<line x1="191.00" y1="358.64" x2="485.80" y2="358.64" stroke="#b8b8b8" stroke-width="0.8" stroke-dasharray="0.8 1.5"/>
<line x1="191.00" y1="357.32" x2="485.80" y2="357.32" stroke="#b8b8b8" stroke-width="0.8" stroke-dasharray="0.8 1.5"/>
<line x1="191.00" y1="399.85" x2="485.80" y2="399.85" stroke="#b8b8b8" stroke-width="0.8" stroke-dasharray="0.8 1.5"/>
<line x1="191.00" y1="395.32" x2="485.80" y2="395.32" stroke="#b8b8b8" stroke-width="0.8" stroke-dasharray="0.8 1.5"/>
<line x1="191.00" y1="392.11" x2="485.80" y2="392.11" stroke="#b8b8b8" stroke-width="0.8" stroke-dasharray="0.8 1.5"/>
<line x1="191.00" y1="389.62" x2="485.80" y2="389.62" stroke="#b8b8b8" stroke-width="0.8" stroke-dasharray="0.8 1.5"/>
<line x1="191.00" y1="387.58" x2="485.80" y2="387.58" stroke="#b8b8b8" stroke-width="0.8" stroke-dasharray="0.8 1.5"/>
<line x1="191.00" y1="385.86" x2="485.80" y2="385.86" stroke="#b8b8b8" stroke-width="0.8" stroke-dasharray="0.8 1.5"/>
<line x1="191.00" y1="384.36" x2="485.80" y2="384.36" stroke="#b8b8b8" stroke-width="0.8" stroke-dasharray="0.8 1.5"/>
<line x1="191.00" y1="383.05" x2="485.80" y2="383.05" stroke="#b8b8b8" stroke-width="0.8" stroke-dasharray="0.8 1.5"/>
<line x1="31.50" y1="4.50" x2="34.70" y2="4.50" stroke="#262626" stroke-width="0.9"/>
<line x1="326.50" y1="4.50" x2="323.30" y2="4.50" stroke="#262626" stroke-width="0.9"/>
<line x1="31.50" y1="22.47" x2="33.70" y2="22.47" stroke="#262626" stroke-width="0.8"/>
<line x1="326.50" y1="22.47" x2="324.30" y2="22.47" stroke="#262626" stroke-width="0.8"/>
<line x1="31.50" y1="17.95" x2="33.70" y2="17.95" stroke="#262626" stroke-width="0.8"/>
<line x1="326.50" y1="17.95" x2="324.30" y2="17.95" stroke="#262626" stroke-width="0.8"/>
<line x1="31.50" y1="14.73" x2="33.70" y2="14.73" stroke="#262626" stroke-width="0.8"/>
<line x1="326.50" y1="14.73" x2="324.30" y2="14.73" stroke="#262626" stroke-width="0.8"/>
<line x1="31.50" y1="12.24" x2="33.70" y2="12.24" stroke="#262626" stroke-width="0.8"/>
<line x1="326.50" y1="12.24" x2="324.30" y2="12.24" stroke="#262626" stroke-width="0.8"/>
<line x1="31.50" y1="10.20" x2="33.70" y2="10.20" stroke="#262626" stroke-width="0.8"/>
<line x1="326.50" y1="10.20" x2="324.30" y2="10.20" stroke="#262626" stroke-width="0.8"/>
<line x1="31.50" y1="8.48" x2="33.70" y2="8.48" stroke="#262626" stroke-width="0.8"/>
<line x1="326.50" y1="8.48" x2="324.30" y2="8.48" stroke="#262626" stroke-width="0.8"/>
<line x1="31.50" y1="6.99" x2="33.70" y2="6.99" stroke="#262626" stroke-width="0.8"/>
<line x1="326.50" y1="6.99" x2="324.30" y2="6.99" stroke="#262626" stroke-width="0.8"/>
<line x1="31.50" y1="5.68" x2="33.70" y2="5.68" stroke="#262626" stroke-width="0.8"/>
<line x1="326.50" y1="5.68" x2="324.30" y2="5.68" stroke="#262626" stroke-width="0.8"/>
<line x1="31.50" y1="30.21" x2="34.70" y2="30.21" stroke="#262626" stroke-width="0.9"/>
<line x1="326.50" y1="30.21" x2="323.30" y2="30.21" stroke="#262626" stroke-width="0.9"/>
<line x1="31.50" y1="48.19" x2="33.70" y2="48.19" stroke="#262626" stroke-width="0.8"/>
<line x1="326.50" y1="48.19" x2="324.30" y2="48.19" stroke="#262626" stroke-width="0.8"/>
<line x1="31.50" y1="43.66" x2="33.70" y2="43.66" stroke="#262626" stroke-width="0.8"/>
<line x1="326.50" y1="43.66" x2="324.30" y2="43.66" stroke="#262626" stroke-width="0.8"/>
<line x1="31.50" y1="40.45" x2="33.70" y2="40.45" stroke="#262626" stroke-width="0.8"/>
<line x1="326.50" y1="40.45" x2="324.30" y2="40.45" stroke="#262626" stroke-width="0.8"/>
<line x1="31.50" y1="37.96" x2="33.70" y2="37.96" stroke="#262626" stroke-width="0.8"/>
<line x1="326.50" y1="37.96" x2="324.30" y2="37.96" stroke="#262626" stroke-width="0.8"/>
<line x1="31.50" y1="35.92" x2="33.70" y2="35.92" stroke="#262626" stroke-width="0.8"/>
<line x1="326.50" y1="35.92" x2="324.30" y2="35.92" stroke="#262626" stroke-width="0.8"/>
<line x1="31.50" y1="34.20" x2="33.70" y2="34.20" stroke="#262626" stroke-width="0.8"/>
<line x1="326.50" y1="34.20" x2="324.30" y2="34.20" stroke="#262626" stroke-width="0.8"/>
<line x1="31.50" y1="32.71" x2="33.70" y2="32.71" stroke="#262626" stroke-width="0.8"/>
<line x1="326.50" y1="32.71" x2="324.30" y2="32.71" stroke="#262626" stroke-width="0.8"/>
<line x1="31.50" y1="31.39" x2="33.70" y2="31.39" stroke="#262626" stroke-width="0.8"/>
<line x1="326.50" y1="31.39" x2="324.30" y2="31.39" stroke="#262626" stroke-width="0.8"/>
<line x1="31.50" y1="55.93" x2="34.70" y2="55.93" stroke="#262626" stroke-width="0.9"/>
<line x1="326.50" y1="55.93" x2="323.30" y2="55.93" stroke="#262626" stroke-width="0.9"/>
<line x1="31.50" y1="73.90" x2="33.70" y2="73.90" stroke="#262626" stroke-width="0.8"/>
<line x1="326.50" y1="73.90" x2="324.30" y2="73.90" stroke="#262626" stroke-width="0.8"/>
<line x1="31.50" y1="69.37" x2="33.70" y2="69.37" stroke="#262626" stroke-width="0.8"/>
<line x1="326.50" y1="69.37" x2="324.30" y2="69.37" stroke="#262626" stroke-width="0.8"/>
<line x1="31.50" y1="66.16" x2="33.70" y2="66.16" stroke="#262626" stroke-width="0.8"/>
<line x1="326.50" y1="66.16" x2="324.30" y2="66.16" stroke="#262626" stroke-width="0.8"/>
<line x1="31.50" y1="63.67" x2="33.70" y2="63.67" stroke="#262626" stroke-width="0.8"/>
<line x1="326.50" y1="63.67" x2="324.30" y2="63.67" stroke="#262626" stroke-width="0.8"/>
<line x1="31.50" y1="61.63" x2="33.70" y2="61.63" stroke="#262626" stroke-width="0.8"/>
<line x1="326.50" y1="61.63" x2="324.30" y2="61.63" stroke="#262626" stroke-width="0.8"/>
<line x1="31.50" y1="59.91" x2="33.70" y2="59.91" stroke="#262626" stroke-width="0.8"/>
<line x1="326.50" y1="59.91" x2="324.30" y2="59.91" stroke="#262626" stroke-width="0.8"/>
<line x1="31.50" y1="58.42" x2="33.70" y2="58.42" stroke="#262626" stroke-width="0.8"/>
<line x1="326.50" y1="58.42" x2="324.30" y2="58.42" stroke="#262626" stroke-width="0.8"/>
<line x1="31.50" y1="57.11" x2="33.70" y2="57.11" stroke="#262626" stroke-width="0.8"/>
<line x1="326.50" y1="57.11" x2="324.30" y2="57.11" stroke="#262626" stroke-width="0.8"/>
<line x1="31.50" y1="81.64" x2="34.70" y2="81.64" stroke="#262626" stroke-width="0.9"/>
<line x1="326.50" y1="81.64" x2="323.30" y2="81.64" stroke="#262626" stroke-width="0.9"/>
<line x1="31.50" y1="99.62" x2="33.70" y2="99.62" stroke="#262626" stroke-width="0.8"/>
<line x1="326.50" y1="99.62" x2="324.30" y2="99.62" stroke="#262626" stroke-width="0.8"/>
<line x1="31.50" y1="95.09" x2="33.70" y2="95.09" stroke="#262626" stroke-width="0.8"/>
<line x1="326.50" y1="95.09" x2="324.30" y2="95.09" stroke="#262626" stroke-width="0.8"/>
<line x1="31.50" y1="91.88" x2="33.70" y2="91.88" stroke="#262626" stroke-width="0.8"/>
<line x1="326.50" y1="91.88" x2="324.30" y2="91.88" stroke="#262626" stroke-width="0.8"/>
<line x1="31.50" y1="89.38" x2="33.70" y2="89.38" stroke="#262626" stroke-width="0.8"/>
<line x1="326.50" y1="89.38" x2="324.30" y2="89.38" stroke="#262626" stroke-width="0.8"/>
<line x1="31.50" y1="87.35" x2="33.70" y2="87.35" stroke="#262626" stroke-width="0.8"/>
<line x1="326.50" y1="87.35" x2="324.30" y2="87.35" stroke="#262626" stroke-width="0.8"/>
<line x1="31.50" y1="85.63" x2="33.70" y2="85.63" stroke="#262626" stroke-width="0.8"/>
<line x1="326.50" y1="85.63" x2="324.30" y2="85.63" stroke="#262626" stroke-width="0.8"/>
<line x1="31.50" y1="84.13" x2="33.70" y2="84.13" stroke="#262626" stroke-width="0.8"/>
<line x1="326.50" y1="84.13" x2="324.30" y2="84.13" stroke="#262626" stroke-width="0.8"/>
<line x1="31.50" y1="82.82" x2="33.70" y2="82.82" stroke="#262626" stroke-width="0.8"/>
<line x1="326.50" y1="82.82" x2="324.30" y2="82.82" stroke="#262626" stroke-width="0.8"/>
<line x1="31.50" y1="107.36" x2="34.70" y2="107.36" stroke="#262626" stroke-width="0.9"/>
<line x1="326.50" y1="107.36" x2="323.30" y2="107.36" stroke="#262626" stroke-width="0.9"/>
<line x1="31.50" y1="125.33" x2="33.70" y2="125.33" stroke="#262626" stroke-width="0.8"/>
<line x1="326.50" y1="125.33" x2="324.30" y2="125.33" stroke="#262626" stroke-width="0.8"/>
<line x1="31.50" y1="120.80" x2="33.70" y2="120.80" stroke="#262626" stroke-width="0.8"/>
<line x1="326.50" y1="120.80" x2="324.30" y2="120.80" stroke="#262626" stroke-width="0.8"/>
<line x1="31.50" y1="117.59" x2="33.70" y2="117.59" stroke="#262626" stroke-width="0.8"/>
<line x1="326.50" y1="117.59" x2="324.30" y2="117.59" stroke="#262626" stroke-width="0.8"/>
<line x1="31.50" y1="115.10" x2="33.70" y2="115.10" stroke="#262626" stroke-width="0.8"/>
<line x1="326.50" y1="115.10" x2="324.30" y2="115.10" stroke="#262626" stroke-width="0.8"/>
<line x1="31.50" y1="113.06" x2="33.70" y2="113.06" stroke="#262626" stroke-width="0.8"/>
<line x1="326.50" y1="113.06" x2="324.30" y2="113.06" stroke="#262626" stroke-width="0.8"/>
<line x1="31.50" y1="111.34" x2="33.70" y2="111.34" stroke="#262626" stroke-width="0.8"/>
<line x1="326.50" y1="111.34" x2="324.30" y2="111.34" stroke="#262626" stroke-width="0.8"/>
<line x1="31.50" y1="109.85" x2="33.70" y2="109.85" stroke="#262626" stroke-width="0.8"/>
<line x1="326.50" y1="109.85" x2="324.30" y2="109.85" stroke="#262626" stroke-width="0.8"/>
<line x1="31.50" y1="108.53" x2="33.70" y2="108.53" stroke="#262626" stroke-width="0.8"/>
<line x1="326.50" y1="108.53" x2="324.30" y2="108.53" stroke="#262626" stroke-width="0.8"/>
<line x1="31.50" y1="133.07" x2="34.70" y2="133.07" stroke="#262626" stroke-width="0.9"/>
<line x1="326.50" y1="133.07" x2="323.30" y2="133.07" stroke="#262626" stroke-width="0.9"/>
<line x1="31.50" y1="151.04" x2="33.70" y2="151.04" stroke="#262626" stroke-width="0.8"/>
<line x1="326.50" y1="151.04" x2="324.30" y2="151.04" stroke="#262626" stroke-width="0.8"/>
<line x1="31.50" y1="146.52" x2="33.70" y2="146.52" stroke="#262626" stroke-width="0.8"/>
<line x1="326.50" y1="146.52" x2="324.30" y2="146.52" stroke="#262626" stroke-width="0.8"/>
<line x1="31.50" y1="143.30" x2="33.70" y2="143.30" stroke="#262626" stroke-width="0.8"/>
<line x1="326.50" y1="143.30" x2="324.30" y2="143.30" stroke="#262626" stroke-width="0.8"/>
<line x1="31.50" y1="140.81" x2="33.70" y2="140.81" stroke="#262626" stroke-width="0.8"/>
<line x1="326.50" y1="140.81" x2="324.30" y2="140.81" stroke="#262626" stroke-width="0.8"/>
<line x1="31.50" y1="138.78" x2="33.70" y2="138.78" stroke="#262626" stroke-width="0.8"/>
<line x1="326.50" y1="138.78" x2="324.30" y2="138.78" stroke="#262626" stroke-width="0.8"/>
<line x1="31.50" y1="137.05" x2="33.70" y2="137.05" stroke="#262626" stroke-width="0.8"/>
<line x1="326.50" y1="137.05" x2="324.30" y2="137.05" stroke="#262626" stroke-width="0.8"/>
<line x1="31.50" y1="135.56" x2="33.70" y2="135.56" stroke="#262626" stroke-width="0.8"/>
<line x1="326.50" y1="135.56" x2="324.30" y2="135.56" stroke="#262626" stroke-width="0.8"/>
<line x1="31.50" y1="134.25" x2="33.70" y2="134.25" stroke="#262626" stroke-width="0.8"/>
<line x1="326.50" y1="134.25" x2="324.30" y2="134.25" stroke="#262626" stroke-width="0.8"/>
<line x1="31.50" y1="158.79" x2="34.70" y2="158.79" stroke="#262626" stroke-width="0.9"/>
<line x1="326.50" y1="158.79" x2="323.30" y2="158.79" stroke="#262626" stroke-width="0.9"/>
<line x1="31.50" y1="176.76" x2="33.70" y2="176.76" stroke="#262626" stroke-width="0.8"/>
<line x1="326.50" y1="176.76" x2="324.30" y2="176.76" stroke="#262626" stroke-width="0.8"/>
<line x1="31.50" y1="172.23" x2="33.70" y2="172.23" stroke="#262626" stroke-width="0.8"/>
<line x1="326.50" y1="172.23" x2="324.30" y2="172.23" stroke="#262626" stroke-width="0.8"/>
<line x1="31.50" y1="169.02" x2="33.70" y2="169.02" stroke="#262626" stroke-width="0.8"/>
<line x1="326.50" y1="169.02" x2="324.30" y2="169.02" stroke="#262626" stroke-width="0.8"/>
<line x1="31.50" y1="166.53" x2="33.70" y2="166.53" stroke="#262626" stroke-width="0.8"/>
<line x1="326.50" y1="166.53" x2="324.30" y2="166.53" stroke="#262626" stroke-width="0.8"/>
<line x1="31.50" y1="164.49" x2="33.70" y2="164.49" stroke="#262626" stroke-width="0.8"/>
<line x1="326.50" y1="164.49" x2="324.30" y2="164.49" stroke="#262626" stroke-width="0.8"/>
<line x1="31.50" y1="162.77" x2="33.70" y2="162.77" stroke="#262626" stroke-width="0.8"/>
<line x1="326.50" y1="162.77" x2="324.30" y2="162.77" stroke="#262626" stroke-width="0.8"/>
<line x1="31.50" y1="161.28" x2="33.70" y2="161.28" stroke="#262626" stroke-width="0.8"/>
<line x1="326.50" y1="161.28" x2="324.30" y2="161.28" stroke="#262626" stroke-width="0.8"/>
<line x1="31.50" y1="159.96" x2="33.70" y2="159.96" stroke="#262626" stroke-width="0.8"/>
<line x1="326.50" y1="159.96" x2="324.30" y2="159.96" stroke="#262626" stroke-width="0.8"/>
<line x1="31.50" y1="184.50" x2="34.70" y2="184.50" stroke="#262626" stroke-width="0.9"/>
<line x1="326.50" y1="184.50" x2="323.30" y2="184.50" stroke="#262626" stroke-width="0.9"/>
<line x1="32.00" y1="184.50" x2="32.00" y2="181.30" stroke="#262626" stroke-width="0.9"/>
<line x1="32.00" y1="4.50" x2="32.00" y2="7.70" stroke="#262626" stroke-width="0.9"/>
<text x="32.00" y="196.10" text-anchor="middle" font-size="7.5">0</text>
<line x1="74.07" y1="184.50" x2="74.07" y2="181.30" stroke="#262626" stroke-width="0.9"/>
<line x1="74.07" y1="4.50" x2="74.07" y2="7.70" stroke="#262626" stroke-width="0.9"/>
<text x="74.07" y="196.10" text-anchor="middle" font-size="7.5">20</text>
<line x1="116.14" y1="184.50" x2="116.14" y2="181.30" stroke="#262626" stroke-width="0.9"/>
<line x1="116.14" y1="4.50" x2="116.14" y2="7.70" stroke="#262626" stroke-width="0.9"/>
<text x="116.14" y="196.10" text-anchor="middle" font-size="7.5">40</text>
<line x1="158.21" y1="184.50" x2="158.21" y2="181.30" stroke="#262626" stroke-width="0.9"/>
<line x1="158.21" y1="4.50" x2="158.21" y2="7.70" stroke="#262626" stroke-width="0.9"/>
<text x="158.21" y="196.10" text-anchor="middle" font-size="7.5">60</text>
<line x1="200.29" y1="184.50" x2="200.29" y2="181.30" stroke="#262626" stroke-width="0.9"/>
<line x1="200.29" y1="4.50" x2="200.29" y2="7.70" stroke="#262626" stroke-width="0.9"/>
<text x="200.29" y="196.10" text-anchor="middle" font-size="7.5">80</text>
<line x1="242.36" y1="184.50" x2="242.36" y2="181.30" stroke="#262626" stroke-width="0.9"/>
<line x1="242.36" y1="4.50" x2="242.36" y2="7.70" stroke="#262626" stroke-width="0.9"/>
<text x="242.36" y="196.10" text-anchor="middle" font-size="7.5">100</text>
<line x1="284.43" y1="184.50" x2="284.43" y2="181.30" stroke="#262626" stroke-width="0.9"/>
<line x1="284.43" y1="4.50" x2="284.43" y2="7.70" stroke="#262626" stroke-width="0.9"/>
<text x="284.43" y="196.10" text-anchor="middle" font-size="7.5">120</text>
<line x1="326.50" y1="184.50" x2="326.50" y2="181.30" stroke="#262626" stroke-width="0.9"/>
<line x1="326.50" y1="4.50" x2="326.50" y2="7.70" stroke="#262626" stroke-width="0.9"/>
<text x="326.50" y="196.10" text-anchor="middle" font-size="7.5">140</text>
<rect x="31.50" y="4.50" width="295.00" height="180.00" fill="none" stroke="#262626" stroke-width="1.05"/>
<text x="28.90" y="9.00" text-anchor="end" font-size="7.9">10<tspan dy="-3.6" font-size="6">1</tspan></text>
<text x="28.90" y="34.71" text-anchor="end" font-size="7.9">10<tspan dy="-3.6" font-size="6">0</tspan></text>
<text x="28.90" y="60.43" text-anchor="end" font-size="7.9">10<tspan dy="-3.6" font-size="6">-1</tspan></text>
<text x="28.90" y="86.14" text-anchor="end" font-size="7.9">10<tspan dy="-3.6" font-size="6">-2</tspan></text>
<text x="28.90" y="111.86" text-anchor="end" font-size="7.9">10<tspan dy="-3.6" font-size="6">-3</tspan></text>
<text x="28.90" y="137.57" text-anchor="end" font-size="7.9">10<tspan dy="-3.6" font-size="6">-4</tspan></text>
<text x="28.90" y="163.29" text-anchor="end" font-size="7.9">10<tspan dy="-3.6" font-size="6">-5</tspan></text>
<text x="28.90" y="189.00" text-anchor="end" font-size="7.9">10<tspan dy="-3.6" font-size="6">-6</tspan></text>
<text x="178.65" y="207.10" text-anchor="middle" font-size="8.4">Number of iterations</text>
<text transform="translate(6.90,95.10) rotate(-90)" text-anchor="middle" font-size="8.6">E<tspan dy="3.6" font-size="6.8">m</tspan></text>
<line x1="384.20" y1="4.50" x2="387.40" y2="4.50" stroke="#262626" stroke-width="0.9"/>
<line x1="679.40" y1="4.50" x2="676.20" y2="4.50" stroke="#262626" stroke-width="0.9"/>
<line x1="384.20" y1="22.47" x2="386.40" y2="22.47" stroke="#262626" stroke-width="0.8"/>
<line x1="679.40" y1="22.47" x2="677.20" y2="22.47" stroke="#262626" stroke-width="0.8"/>
<line x1="384.20" y1="17.95" x2="386.40" y2="17.95" stroke="#262626" stroke-width="0.8"/>
<line x1="679.40" y1="17.95" x2="677.20" y2="17.95" stroke="#262626" stroke-width="0.8"/>
<line x1="384.20" y1="14.73" x2="386.40" y2="14.73" stroke="#262626" stroke-width="0.8"/>
<line x1="679.40" y1="14.73" x2="677.20" y2="14.73" stroke="#262626" stroke-width="0.8"/>
<line x1="384.20" y1="12.24" x2="386.40" y2="12.24" stroke="#262626" stroke-width="0.8"/>
<line x1="679.40" y1="12.24" x2="677.20" y2="12.24" stroke="#262626" stroke-width="0.8"/>
<line x1="384.20" y1="10.20" x2="386.40" y2="10.20" stroke="#262626" stroke-width="0.8"/>
<line x1="679.40" y1="10.20" x2="677.20" y2="10.20" stroke="#262626" stroke-width="0.8"/>
<line x1="384.20" y1="8.48" x2="386.40" y2="8.48" stroke="#262626" stroke-width="0.8"/>
<line x1="679.40" y1="8.48" x2="677.20" y2="8.48" stroke="#262626" stroke-width="0.8"/>
<line x1="384.20" y1="6.99" x2="386.40" y2="6.99" stroke="#262626" stroke-width="0.8"/>
<line x1="679.40" y1="6.99" x2="677.20" y2="6.99" stroke="#262626" stroke-width="0.8"/>
<line x1="384.20" y1="5.68" x2="386.40" y2="5.68" stroke="#262626" stroke-width="0.8"/>
<line x1="679.40" y1="5.68" x2="677.20" y2="5.68" stroke="#262626" stroke-width="0.8"/>
<line x1="384.20" y1="30.21" x2="387.40" y2="30.21" stroke="#262626" stroke-width="0.9"/>
<line x1="679.40" y1="30.21" x2="676.20" y2="30.21" stroke="#262626" stroke-width="0.9"/>
<line x1="384.20" y1="48.19" x2="386.40" y2="48.19" stroke="#262626" stroke-width="0.8"/>
<line x1="679.40" y1="48.19" x2="677.20" y2="48.19" stroke="#262626" stroke-width="0.8"/>
<line x1="384.20" y1="43.66" x2="386.40" y2="43.66" stroke="#262626" stroke-width="0.8"/>
<line x1="679.40" y1="43.66" x2="677.20" y2="43.66" stroke="#262626" stroke-width="0.8"/>
<line x1="384.20" y1="40.45" x2="386.40" y2="40.45" stroke="#262626" stroke-width="0.8"/>
<line x1="679.40" y1="40.45" x2="677.20" y2="40.45" stroke="#262626" stroke-width="0.8"/>
<line x1="384.20" y1="37.96" x2="386.40" y2="37.96" stroke="#262626" stroke-width="0.8"/>
<line x1="679.40" y1="37.96" x2="677.20" y2="37.96" stroke="#262626" stroke-width="0.8"/>
<line x1="384.20" y1="35.92" x2="386.40" y2="35.92" stroke="#262626" stroke-width="0.8"/>
<line x1="679.40" y1="35.92" x2="677.20" y2="35.92" stroke="#262626" stroke-width="0.8"/>
<line x1="384.20" y1="34.20" x2="386.40" y2="34.20" stroke="#262626" stroke-width="0.8"/>
<line x1="679.40" y1="34.20" x2="677.20" y2="34.20" stroke="#262626" stroke-width="0.8"/>
<line x1="384.20" y1="32.71" x2="386.40" y2="32.71" stroke="#262626" stroke-width="0.8"/>
<line x1="679.40" y1="32.71" x2="677.20" y2="32.71" stroke="#262626" stroke-width="0.8"/>
<line x1="384.20" y1="31.39" x2="386.40" y2="31.39" stroke="#262626" stroke-width="0.8"/>
<line x1="679.40" y1="31.39" x2="677.20" y2="31.39" stroke="#262626" stroke-width="0.8"/>
<line x1="384.20" y1="55.93" x2="387.40" y2="55.93" stroke="#262626" stroke-width="0.9"/>
<line x1="679.40" y1="55.93" x2="676.20" y2="55.93" stroke="#262626" stroke-width="0.9"/>
<line x1="384.20" y1="73.90" x2="386.40" y2="73.90" stroke="#262626" stroke-width="0.8"/>
<line x1="679.40" y1="73.90" x2="677.20" y2="73.90" stroke="#262626" stroke-width="0.8"/>
<line x1="384.20" y1="69.37" x2="386.40" y2="69.37" stroke="#262626" stroke-width="0.8"/>
<line x1="679.40" y1="69.37" x2="677.20" y2="69.37" stroke="#262626" stroke-width="0.8"/>
<line x1="384.20" y1="66.16" x2="386.40" y2="66.16" stroke="#262626" stroke-width="0.8"/>
<line x1="679.40" y1="66.16" x2="677.20" y2="66.16" stroke="#262626" stroke-width="0.8"/>
<line x1="384.20" y1="63.67" x2="386.40" y2="63.67" stroke="#262626" stroke-width="0.8"/>
<line x1="679.40" y1="63.67" x2="677.20" y2="63.67" stroke="#262626" stroke-width="0.8"/>
<line x1="384.20" y1="61.63" x2="386.40" y2="61.63" stroke="#262626" stroke-width="0.8"/>
<line x1="679.40" y1="61.63" x2="677.20" y2="61.63" stroke="#262626" stroke-width="0.8"/>
<line x1="384.20" y1="59.91" x2="386.40" y2="59.91" stroke="#262626" stroke-width="0.8"/>
<line x1="679.40" y1="59.91" x2="677.20" y2="59.91" stroke="#262626" stroke-width="0.8"/>
<line x1="384.20" y1="58.42" x2="386.40" y2="58.42" stroke="#262626" stroke-width="0.8"/>
<line x1="679.40" y1="58.42" x2="677.20" y2="58.42" stroke="#262626" stroke-width="0.8"/>
<line x1="384.20" y1="57.11" x2="386.40" y2="57.11" stroke="#262626" stroke-width="0.8"/>
<line x1="679.40" y1="57.11" x2="677.20" y2="57.11" stroke="#262626" stroke-width="0.8"/>
<line x1="384.20" y1="81.64" x2="387.40" y2="81.64" stroke="#262626" stroke-width="0.9"/>
<line x1="679.40" y1="81.64" x2="676.20" y2="81.64" stroke="#262626" stroke-width="0.9"/>
<line x1="384.20" y1="99.62" x2="386.40" y2="99.62" stroke="#262626" stroke-width="0.8"/>
<line x1="679.40" y1="99.62" x2="677.20" y2="99.62" stroke="#262626" stroke-width="0.8"/>
<line x1="384.20" y1="95.09" x2="386.40" y2="95.09" stroke="#262626" stroke-width="0.8"/>
<line x1="679.40" y1="95.09" x2="677.20" y2="95.09" stroke="#262626" stroke-width="0.8"/>
<line x1="384.20" y1="91.88" x2="386.40" y2="91.88" stroke="#262626" stroke-width="0.8"/>
<line x1="679.40" y1="91.88" x2="677.20" y2="91.88" stroke="#262626" stroke-width="0.8"/>
<line x1="384.20" y1="89.38" x2="386.40" y2="89.38" stroke="#262626" stroke-width="0.8"/>
<line x1="679.40" y1="89.38" x2="677.20" y2="89.38" stroke="#262626" stroke-width="0.8"/>
<line x1="384.20" y1="87.35" x2="386.40" y2="87.35" stroke="#262626" stroke-width="0.8"/>
<line x1="679.40" y1="87.35" x2="677.20" y2="87.35" stroke="#262626" stroke-width="0.8"/>
<line x1="384.20" y1="85.63" x2="386.40" y2="85.63" stroke="#262626" stroke-width="0.8"/>
<line x1="679.40" y1="85.63" x2="677.20" y2="85.63" stroke="#262626" stroke-width="0.8"/>
<line x1="384.20" y1="84.13" x2="386.40" y2="84.13" stroke="#262626" stroke-width="0.8"/>
<line x1="679.40" y1="84.13" x2="677.20" y2="84.13" stroke="#262626" stroke-width="0.8"/>
<line x1="384.20" y1="82.82" x2="386.40" y2="82.82" stroke="#262626" stroke-width="0.8"/>
<line x1="679.40" y1="82.82" x2="677.20" y2="82.82" stroke="#262626" stroke-width="0.8"/>
<line x1="384.20" y1="107.36" x2="387.40" y2="107.36" stroke="#262626" stroke-width="0.9"/>
<line x1="679.40" y1="107.36" x2="676.20" y2="107.36" stroke="#262626" stroke-width="0.9"/>
<line x1="384.20" y1="125.33" x2="386.40" y2="125.33" stroke="#262626" stroke-width="0.8"/>
<line x1="679.40" y1="125.33" x2="677.20" y2="125.33" stroke="#262626" stroke-width="0.8"/>
<line x1="384.20" y1="120.80" x2="386.40" y2="120.80" stroke="#262626" stroke-width="0.8"/>
<line x1="679.40" y1="120.80" x2="677.20" y2="120.80" stroke="#262626" stroke-width="0.8"/>
<line x1="384.20" y1="117.59" x2="386.40" y2="117.59" stroke="#262626" stroke-width="0.8"/>
<line x1="679.40" y1="117.59" x2="677.20" y2="117.59" stroke="#262626" stroke-width="0.8"/>
<line x1="384.20" y1="115.10" x2="386.40" y2="115.10" stroke="#262626" stroke-width="0.8"/>
<line x1="679.40" y1="115.10" x2="677.20" y2="115.10" stroke="#262626" stroke-width="0.8"/>
<line x1="384.20" y1="113.06" x2="386.40" y2="113.06" stroke="#262626" stroke-width="0.8"/>
<line x1="679.40" y1="113.06" x2="677.20" y2="113.06" stroke="#262626" stroke-width="0.8"/>
<line x1="384.20" y1="111.34" x2="386.40" y2="111.34" stroke="#262626" stroke-width="0.8"/>
<line x1="679.40" y1="111.34" x2="677.20" y2="111.34" stroke="#262626" stroke-width="0.8"/>
<line x1="384.20" y1="109.85" x2="386.40" y2="109.85" stroke="#262626" stroke-width="0.8"/>
<line x1="679.40" y1="109.85" x2="677.20" y2="109.85" stroke="#262626" stroke-width="0.8"/>
<line x1="384.20" y1="108.53" x2="386.40" y2="108.53" stroke="#262626" stroke-width="0.8"/>
<line x1="679.40" y1="108.53" x2="677.20" y2="108.53" stroke="#262626" stroke-width="0.8"/>
<line x1="384.20" y1="133.07" x2="387.40" y2="133.07" stroke="#262626" stroke-width="0.9"/>
<line x1="679.40" y1="133.07" x2="676.20" y2="133.07" stroke="#262626" stroke-width="0.9"/>
<line x1="384.20" y1="151.04" x2="386.40" y2="151.04" stroke="#262626" stroke-width="0.8"/>
<line x1="679.40" y1="151.04" x2="677.20" y2="151.04" stroke="#262626" stroke-width="0.8"/>
<line x1="384.20" y1="146.52" x2="386.40" y2="146.52" stroke="#262626" stroke-width="0.8"/>
<line x1="679.40" y1="146.52" x2="677.20" y2="146.52" stroke="#262626" stroke-width="0.8"/>
<line x1="384.20" y1="143.30" x2="386.40" y2="143.30" stroke="#262626" stroke-width="0.8"/>
<line x1="679.40" y1="143.30" x2="677.20" y2="143.30" stroke="#262626" stroke-width="0.8"/>
<line x1="384.20" y1="140.81" x2="386.40" y2="140.81" stroke="#262626" stroke-width="0.8"/>
<line x1="679.40" y1="140.81" x2="677.20" y2="140.81" stroke="#262626" stroke-width="0.8"/>
<line x1="384.20" y1="138.78" x2="386.40" y2="138.78" stroke="#262626" stroke-width="0.8"/>
<line x1="679.40" y1="138.78" x2="677.20" y2="138.78" stroke="#262626" stroke-width="0.8"/>
<line x1="384.20" y1="137.05" x2="386.40" y2="137.05" stroke="#262626" stroke-width="0.8"/>
<line x1="679.40" y1="137.05" x2="677.20" y2="137.05" stroke="#262626" stroke-width="0.8"/>
<line x1="384.20" y1="135.56" x2="386.40" y2="135.56" stroke="#262626" stroke-width="0.8"/>
<line x1="679.40" y1="135.56" x2="677.20" y2="135.56" stroke="#262626" stroke-width="0.8"/>
<line x1="384.20" y1="134.25" x2="386.40" y2="134.25" stroke="#262626" stroke-width="0.8"/>
<line x1="679.40" y1="134.25" x2="677.20" y2="134.25" stroke="#262626" stroke-width="0.8"/>
<line x1="384.20" y1="158.79" x2="387.40" y2="158.79" stroke="#262626" stroke-width="0.9"/>
<line x1="679.40" y1="158.79" x2="676.20" y2="158.79" stroke="#262626" stroke-width="0.9"/>
<line x1="384.20" y1="176.76" x2="386.40" y2="176.76" stroke="#262626" stroke-width="0.8"/>
<line x1="679.40" y1="176.76" x2="677.20" y2="176.76" stroke="#262626" stroke-width="0.8"/>
<line x1="384.20" y1="172.23" x2="386.40" y2="172.23" stroke="#262626" stroke-width="0.8"/>
<line x1="679.40" y1="172.23" x2="677.20" y2="172.23" stroke="#262626" stroke-width="0.8"/>
<line x1="384.20" y1="169.02" x2="386.40" y2="169.02" stroke="#262626" stroke-width="0.8"/>
<line x1="679.40" y1="169.02" x2="677.20" y2="169.02" stroke="#262626" stroke-width="0.8"/>
<line x1="384.20" y1="166.53" x2="386.40" y2="166.53" stroke="#262626" stroke-width="0.8"/>
<line x1="679.40" y1="166.53" x2="677.20" y2="166.53" stroke="#262626" stroke-width="0.8"/>
<line x1="384.20" y1="164.49" x2="386.40" y2="164.49" stroke="#262626" stroke-width="0.8"/>
<line x1="679.40" y1="164.49" x2="677.20" y2="164.49" stroke="#262626" stroke-width="0.8"/>
<line x1="384.20" y1="162.77" x2="386.40" y2="162.77" stroke="#262626" stroke-width="0.8"/>
<line x1="679.40" y1="162.77" x2="677.20" y2="162.77" stroke="#262626" stroke-width="0.8"/>
<line x1="384.20" y1="161.28" x2="386.40" y2="161.28" stroke="#262626" stroke-width="0.8"/>
<line x1="679.40" y1="161.28" x2="677.20" y2="161.28" stroke="#262626" stroke-width="0.8"/>
<line x1="384.20" y1="159.96" x2="386.40" y2="159.96" stroke="#262626" stroke-width="0.8"/>
<line x1="679.40" y1="159.96" x2="677.20" y2="159.96" stroke="#262626" stroke-width="0.8"/>
<line x1="384.20" y1="184.50" x2="387.40" y2="184.50" stroke="#262626" stroke-width="0.9"/>
<line x1="679.40" y1="184.50" x2="676.20" y2="184.50" stroke="#262626" stroke-width="0.9"/>
<line x1="384.20" y1="184.50" x2="384.20" y2="181.30" stroke="#262626" stroke-width="0.9"/>
<line x1="384.20" y1="4.50" x2="384.20" y2="7.70" stroke="#262626" stroke-width="0.9"/>
<text x="384.20" y="196.10" text-anchor="middle" font-size="7.5">0</text>
<line x1="443.20" y1="184.50" x2="443.20" y2="181.30" stroke="#262626" stroke-width="0.9"/>
<line x1="443.20" y1="4.50" x2="443.20" y2="7.70" stroke="#262626" stroke-width="0.9"/>
<text x="443.20" y="196.10" text-anchor="middle" font-size="7.5">50</text>
<line x1="502.20" y1="184.50" x2="502.20" y2="181.30" stroke="#262626" stroke-width="0.9"/>
<line x1="502.20" y1="4.50" x2="502.20" y2="7.70" stroke="#262626" stroke-width="0.9"/>
<text x="502.20" y="196.10" text-anchor="middle" font-size="7.5">100</text>
<line x1="561.20" y1="184.50" x2="561.20" y2="181.30" stroke="#262626" stroke-width="0.9"/>
<line x1="561.20" y1="4.50" x2="561.20" y2="7.70" stroke="#262626" stroke-width="0.9"/>
<text x="561.20" y="196.10" text-anchor="middle" font-size="7.5">150</text>
<line x1="620.20" y1="184.50" x2="620.20" y2="181.30" stroke="#262626" stroke-width="0.9"/>
<line x1="620.20" y1="4.50" x2="620.20" y2="7.70" stroke="#262626" stroke-width="0.9"/>
<text x="620.20" y="196.10" text-anchor="middle" font-size="7.5">200</text>
<line x1="679.20" y1="184.50" x2="679.20" y2="181.30" stroke="#262626" stroke-width="0.9"/>
<line x1="679.20" y1="4.50" x2="679.20" y2="7.70" stroke="#262626" stroke-width="0.9"/>
<text x="679.20" y="196.10" text-anchor="middle" font-size="7.5">250</text>
<rect x="384.20" y="4.50" width="295.20" height="180.00" fill="none" stroke="#262626" stroke-width="1.05"/>
<text x="381.10" y="9.00" text-anchor="end" font-size="7.9">10<tspan dy="-3.6" font-size="6">1</tspan></text>
<text x="381.10" y="34.71" text-anchor="end" font-size="7.9">10<tspan dy="-3.6" font-size="6">0</tspan></text>
<text x="381.10" y="60.43" text-anchor="end" font-size="7.9">10<tspan dy="-3.6" font-size="6">-1</tspan></text>
<text x="381.10" y="86.14" text-anchor="end" font-size="7.9">10<tspan dy="-3.6" font-size="6">-2</tspan></text>
<text x="381.10" y="111.86" text-anchor="end" font-size="7.9">10<tspan dy="-3.6" font-size="6">-3</tspan></text>
<text x="381.10" y="137.57" text-anchor="end" font-size="7.9">10<tspan dy="-3.6" font-size="6">-4</tspan></text>
<text x="381.10" y="163.29" text-anchor="end" font-size="7.9">10<tspan dy="-3.6" font-size="6">-5</tspan></text>
<text x="381.10" y="189.00" text-anchor="end" font-size="7.9">10<tspan dy="-3.6" font-size="6">-6</tspan></text>
<text x="531.10" y="207.10" text-anchor="middle" font-size="8.4">Number of iterations</text>
<text transform="translate(359.10,95.10) rotate(-90)" text-anchor="middle" font-size="8.6">E<tspan dy="3.6" font-size="6.8">m</tspan></text>
<line x1="191.10" y1="227.50" x2="194.30" y2="227.50" stroke="#262626" stroke-width="0.9"/>
<line x1="485.60" y1="227.50" x2="482.40" y2="227.50" stroke="#262626" stroke-width="0.9"/>
<line x1="191.10" y1="245.48" x2="193.30" y2="245.48" stroke="#262626" stroke-width="0.8"/>
<line x1="485.60" y1="245.48" x2="483.40" y2="245.48" stroke="#262626" stroke-width="0.8"/>
<line x1="191.10" y1="240.95" x2="193.30" y2="240.95" stroke="#262626" stroke-width="0.8"/>
<line x1="485.60" y1="240.95" x2="483.40" y2="240.95" stroke="#262626" stroke-width="0.8"/>
<line x1="191.10" y1="237.74" x2="193.30" y2="237.74" stroke="#262626" stroke-width="0.8"/>
<line x1="485.60" y1="237.74" x2="483.40" y2="237.74" stroke="#262626" stroke-width="0.8"/>
<line x1="191.10" y1="235.25" x2="193.30" y2="235.25" stroke="#262626" stroke-width="0.8"/>
<line x1="485.60" y1="235.25" x2="483.40" y2="235.25" stroke="#262626" stroke-width="0.8"/>
<line x1="191.10" y1="233.21" x2="193.30" y2="233.21" stroke="#262626" stroke-width="0.8"/>
<line x1="485.60" y1="233.21" x2="483.40" y2="233.21" stroke="#262626" stroke-width="0.8"/>
<line x1="191.10" y1="231.49" x2="193.30" y2="231.49" stroke="#262626" stroke-width="0.8"/>
<line x1="485.60" y1="231.49" x2="483.40" y2="231.49" stroke="#262626" stroke-width="0.8"/>
<line x1="191.10" y1="229.99" x2="193.30" y2="229.99" stroke="#262626" stroke-width="0.8"/>
<line x1="485.60" y1="229.99" x2="483.40" y2="229.99" stroke="#262626" stroke-width="0.8"/>
<line x1="191.10" y1="228.68" x2="193.30" y2="228.68" stroke="#262626" stroke-width="0.8"/>
<line x1="485.60" y1="228.68" x2="483.40" y2="228.68" stroke="#262626" stroke-width="0.8"/>
<line x1="191.10" y1="253.23" x2="194.30" y2="253.23" stroke="#262626" stroke-width="0.9"/>
<line x1="485.60" y1="253.23" x2="482.40" y2="253.23" stroke="#262626" stroke-width="0.9"/>
<line x1="191.10" y1="271.21" x2="193.30" y2="271.21" stroke="#262626" stroke-width="0.8"/>
<line x1="485.60" y1="271.21" x2="483.40" y2="271.21" stroke="#262626" stroke-width="0.8"/>
<line x1="191.10" y1="266.68" x2="193.30" y2="266.68" stroke="#262626" stroke-width="0.8"/>
<line x1="485.60" y1="266.68" x2="483.40" y2="266.68" stroke="#262626" stroke-width="0.8"/>
<line x1="191.10" y1="263.47" x2="193.30" y2="263.47" stroke="#262626" stroke-width="0.8"/>
<line x1="485.60" y1="263.47" x2="483.40" y2="263.47" stroke="#262626" stroke-width="0.8"/>
<line x1="191.10" y1="260.97" x2="193.30" y2="260.97" stroke="#262626" stroke-width="0.8"/>
<line x1="485.60" y1="260.97" x2="483.40" y2="260.97" stroke="#262626" stroke-width="0.8"/>
<line x1="191.10" y1="258.94" x2="193.30" y2="258.94" stroke="#262626" stroke-width="0.8"/>
<line x1="485.60" y1="258.94" x2="483.40" y2="258.94" stroke="#262626" stroke-width="0.8"/>
<line x1="191.10" y1="257.21" x2="193.30" y2="257.21" stroke="#262626" stroke-width="0.8"/>
<line x1="485.60" y1="257.21" x2="483.40" y2="257.21" stroke="#262626" stroke-width="0.8"/>
<line x1="191.10" y1="255.72" x2="193.30" y2="255.72" stroke="#262626" stroke-width="0.8"/>
<line x1="485.60" y1="255.72" x2="483.40" y2="255.72" stroke="#262626" stroke-width="0.8"/>
<line x1="191.10" y1="254.41" x2="193.30" y2="254.41" stroke="#262626" stroke-width="0.8"/>
<line x1="485.60" y1="254.41" x2="483.40" y2="254.41" stroke="#262626" stroke-width="0.8"/>
<line x1="191.10" y1="278.96" x2="194.30" y2="278.96" stroke="#262626" stroke-width="0.9"/>
<line x1="485.60" y1="278.96" x2="482.40" y2="278.96" stroke="#262626" stroke-width="0.9"/>
<line x1="191.10" y1="296.94" x2="193.30" y2="296.94" stroke="#262626" stroke-width="0.8"/>
<line x1="485.60" y1="296.94" x2="483.40" y2="296.94" stroke="#262626" stroke-width="0.8"/>
<line x1="191.10" y1="292.41" x2="193.30" y2="292.41" stroke="#262626" stroke-width="0.8"/>
<line x1="485.60" y1="292.41" x2="483.40" y2="292.41" stroke="#262626" stroke-width="0.8"/>
<line x1="191.10" y1="289.20" x2="193.30" y2="289.20" stroke="#262626" stroke-width="0.8"/>
<line x1="485.60" y1="289.20" x2="483.40" y2="289.20" stroke="#262626" stroke-width="0.8"/>
<line x1="191.10" y1="286.70" x2="193.30" y2="286.70" stroke="#262626" stroke-width="0.8"/>
<line x1="485.60" y1="286.70" x2="483.40" y2="286.70" stroke="#262626" stroke-width="0.8"/>
<line x1="191.10" y1="284.66" x2="193.30" y2="284.66" stroke="#262626" stroke-width="0.8"/>
<line x1="485.60" y1="284.66" x2="483.40" y2="284.66" stroke="#262626" stroke-width="0.8"/>
<line x1="191.10" y1="282.94" x2="193.30" y2="282.94" stroke="#262626" stroke-width="0.8"/>
<line x1="485.60" y1="282.94" x2="483.40" y2="282.94" stroke="#262626" stroke-width="0.8"/>
<line x1="191.10" y1="281.45" x2="193.30" y2="281.45" stroke="#262626" stroke-width="0.8"/>
<line x1="485.60" y1="281.45" x2="483.40" y2="281.45" stroke="#262626" stroke-width="0.8"/>
<line x1="191.10" y1="280.13" x2="193.30" y2="280.13" stroke="#262626" stroke-width="0.8"/>
<line x1="485.60" y1="280.13" x2="483.40" y2="280.13" stroke="#262626" stroke-width="0.8"/>
<line x1="191.10" y1="304.69" x2="194.30" y2="304.69" stroke="#262626" stroke-width="0.9"/>
<line x1="485.60" y1="304.69" x2="482.40" y2="304.69" stroke="#262626" stroke-width="0.9"/>
<line x1="191.10" y1="322.67" x2="193.30" y2="322.67" stroke="#262626" stroke-width="0.8"/>
<line x1="485.60" y1="322.67" x2="483.40" y2="322.67" stroke="#262626" stroke-width="0.8"/>
<line x1="191.10" y1="318.14" x2="193.30" y2="318.14" stroke="#262626" stroke-width="0.8"/>
<line x1="485.60" y1="318.14" x2="483.40" y2="318.14" stroke="#262626" stroke-width="0.8"/>
<line x1="191.10" y1="314.92" x2="193.30" y2="314.92" stroke="#262626" stroke-width="0.8"/>
<line x1="485.60" y1="314.92" x2="483.40" y2="314.92" stroke="#262626" stroke-width="0.8"/>
<line x1="191.10" y1="312.43" x2="193.30" y2="312.43" stroke="#262626" stroke-width="0.8"/>
<line x1="485.60" y1="312.43" x2="483.40" y2="312.43" stroke="#262626" stroke-width="0.8"/>
<line x1="191.10" y1="310.39" x2="193.30" y2="310.39" stroke="#262626" stroke-width="0.8"/>
<line x1="485.60" y1="310.39" x2="483.40" y2="310.39" stroke="#262626" stroke-width="0.8"/>
<line x1="191.10" y1="308.67" x2="193.30" y2="308.67" stroke="#262626" stroke-width="0.8"/>
<line x1="485.60" y1="308.67" x2="483.40" y2="308.67" stroke="#262626" stroke-width="0.8"/>
<line x1="191.10" y1="307.18" x2="193.30" y2="307.18" stroke="#262626" stroke-width="0.8"/>
<line x1="485.60" y1="307.18" x2="483.40" y2="307.18" stroke="#262626" stroke-width="0.8"/>
<line x1="191.10" y1="305.86" x2="193.30" y2="305.86" stroke="#262626" stroke-width="0.8"/>
<line x1="485.60" y1="305.86" x2="483.40" y2="305.86" stroke="#262626" stroke-width="0.8"/>
<line x1="191.10" y1="330.41" x2="194.30" y2="330.41" stroke="#262626" stroke-width="0.9"/>
<line x1="485.60" y1="330.41" x2="482.40" y2="330.41" stroke="#262626" stroke-width="0.9"/>
<line x1="191.10" y1="348.40" x2="193.30" y2="348.40" stroke="#262626" stroke-width="0.8"/>
<line x1="485.60" y1="348.40" x2="483.40" y2="348.40" stroke="#262626" stroke-width="0.8"/>
<line x1="191.10" y1="343.87" x2="193.30" y2="343.87" stroke="#262626" stroke-width="0.8"/>
<line x1="485.60" y1="343.87" x2="483.40" y2="343.87" stroke="#262626" stroke-width="0.8"/>
<line x1="191.10" y1="340.65" x2="193.30" y2="340.65" stroke="#262626" stroke-width="0.8"/>
<line x1="485.60" y1="340.65" x2="483.40" y2="340.65" stroke="#262626" stroke-width="0.8"/>
<line x1="191.10" y1="338.16" x2="193.30" y2="338.16" stroke="#262626" stroke-width="0.8"/>
<line x1="485.60" y1="338.16" x2="483.40" y2="338.16" stroke="#262626" stroke-width="0.8"/>
<line x1="191.10" y1="336.12" x2="193.30" y2="336.12" stroke="#262626" stroke-width="0.8"/>
<line x1="485.60" y1="336.12" x2="483.40" y2="336.12" stroke="#262626" stroke-width="0.8"/>
<line x1="191.10" y1="334.40" x2="193.30" y2="334.40" stroke="#262626" stroke-width="0.8"/>
<line x1="485.60" y1="334.40" x2="483.40" y2="334.40" stroke="#262626" stroke-width="0.8"/>
<line x1="191.10" y1="332.91" x2="193.30" y2="332.91" stroke="#262626" stroke-width="0.8"/>
<line x1="485.60" y1="332.91" x2="483.40" y2="332.91" stroke="#262626" stroke-width="0.8"/>
<line x1="191.10" y1="331.59" x2="193.30" y2="331.59" stroke="#262626" stroke-width="0.8"/>
<line x1="485.60" y1="331.59" x2="483.40" y2="331.59" stroke="#262626" stroke-width="0.8"/>
<line x1="191.10" y1="356.14" x2="194.30" y2="356.14" stroke="#262626" stroke-width="0.9"/>
<line x1="485.60" y1="356.14" x2="482.40" y2="356.14" stroke="#262626" stroke-width="0.9"/>
<line x1="191.10" y1="374.13" x2="193.30" y2="374.13" stroke="#262626" stroke-width="0.8"/>
<line x1="485.60" y1="374.13" x2="483.40" y2="374.13" stroke="#262626" stroke-width="0.8"/>
<line x1="191.10" y1="369.60" x2="193.30" y2="369.60" stroke="#262626" stroke-width="0.8"/>
<line x1="485.60" y1="369.60" x2="483.40" y2="369.60" stroke="#262626" stroke-width="0.8"/>
<line x1="191.10" y1="366.38" x2="193.30" y2="366.38" stroke="#262626" stroke-width="0.8"/>
<line x1="485.60" y1="366.38" x2="483.40" y2="366.38" stroke="#262626" stroke-width="0.8"/>
<line x1="191.10" y1="363.89" x2="193.30" y2="363.89" stroke="#262626" stroke-width="0.8"/>
<line x1="485.60" y1="363.89" x2="483.40" y2="363.89" stroke="#262626" stroke-width="0.8"/>
<line x1="191.10" y1="361.85" x2="193.30" y2="361.85" stroke="#262626" stroke-width="0.8"/>
<line x1="485.60" y1="361.85" x2="483.40" y2="361.85" stroke="#262626" stroke-width="0.8"/>
<line x1="191.10" y1="360.13" x2="193.30" y2="360.13" stroke="#262626" stroke-width="0.8"/>
<line x1="485.60" y1="360.13" x2="483.40" y2="360.13" stroke="#262626" stroke-width="0.8"/>
<line x1="191.10" y1="358.64" x2="193.30" y2="358.64" stroke="#262626" stroke-width="0.8"/>
<line x1="485.60" y1="358.64" x2="483.40" y2="358.64" stroke="#262626" stroke-width="0.8"/>
<line x1="191.10" y1="357.32" x2="193.30" y2="357.32" stroke="#262626" stroke-width="0.8"/>
<line x1="485.60" y1="357.32" x2="483.40" y2="357.32" stroke="#262626" stroke-width="0.8"/>
<line x1="191.10" y1="381.87" x2="194.30" y2="381.87" stroke="#262626" stroke-width="0.9"/>
<line x1="485.60" y1="381.87" x2="482.40" y2="381.87" stroke="#262626" stroke-width="0.9"/>
<line x1="191.10" y1="399.85" x2="193.30" y2="399.85" stroke="#262626" stroke-width="0.8"/>
<line x1="485.60" y1="399.85" x2="483.40" y2="399.85" stroke="#262626" stroke-width="0.8"/>
<line x1="191.10" y1="395.32" x2="193.30" y2="395.32" stroke="#262626" stroke-width="0.8"/>
<line x1="485.60" y1="395.32" x2="483.40" y2="395.32" stroke="#262626" stroke-width="0.8"/>
<line x1="191.10" y1="392.11" x2="193.30" y2="392.11" stroke="#262626" stroke-width="0.8"/>
<line x1="485.60" y1="392.11" x2="483.40" y2="392.11" stroke="#262626" stroke-width="0.8"/>
<line x1="191.10" y1="389.62" x2="193.30" y2="389.62" stroke="#262626" stroke-width="0.8"/>
<line x1="485.60" y1="389.62" x2="483.40" y2="389.62" stroke="#262626" stroke-width="0.8"/>
<line x1="191.10" y1="387.58" x2="193.30" y2="387.58" stroke="#262626" stroke-width="0.8"/>
<line x1="485.60" y1="387.58" x2="483.40" y2="387.58" stroke="#262626" stroke-width="0.8"/>
<line x1="191.10" y1="385.86" x2="193.30" y2="385.86" stroke="#262626" stroke-width="0.8"/>
<line x1="485.60" y1="385.86" x2="483.40" y2="385.86" stroke="#262626" stroke-width="0.8"/>
<line x1="191.10" y1="384.36" x2="193.30" y2="384.36" stroke="#262626" stroke-width="0.8"/>
<line x1="485.60" y1="384.36" x2="483.40" y2="384.36" stroke="#262626" stroke-width="0.8"/>
<line x1="191.10" y1="383.05" x2="193.30" y2="383.05" stroke="#262626" stroke-width="0.8"/>
<line x1="485.60" y1="383.05" x2="483.40" y2="383.05" stroke="#262626" stroke-width="0.8"/>
<line x1="191.10" y1="407.60" x2="194.30" y2="407.60" stroke="#262626" stroke-width="0.9"/>
<line x1="485.60" y1="407.60" x2="482.40" y2="407.60" stroke="#262626" stroke-width="0.9"/>
<line x1="191.00" y1="407.60" x2="191.00" y2="404.40" stroke="#262626" stroke-width="0.9"/>
<line x1="191.00" y1="227.50" x2="191.00" y2="230.70" stroke="#262626" stroke-width="0.9"/>
<text x="191.00" y="419.20" text-anchor="middle" font-size="7.5">0</text>
<line x1="289.27" y1="407.60" x2="289.27" y2="404.40" stroke="#262626" stroke-width="0.9"/>
<line x1="289.27" y1="227.50" x2="289.27" y2="230.70" stroke="#262626" stroke-width="0.9"/>
<text x="289.27" y="419.20" text-anchor="middle" font-size="7.5">50</text>
<line x1="387.53" y1="407.60" x2="387.53" y2="404.40" stroke="#262626" stroke-width="0.9"/>
<line x1="387.53" y1="227.50" x2="387.53" y2="230.70" stroke="#262626" stroke-width="0.9"/>
<text x="387.53" y="419.20" text-anchor="middle" font-size="7.5">100</text>
<line x1="485.80" y1="407.60" x2="485.80" y2="404.40" stroke="#262626" stroke-width="0.9"/>
<line x1="485.80" y1="227.50" x2="485.80" y2="230.70" stroke="#262626" stroke-width="0.9"/>
<text x="485.80" y="419.20" text-anchor="middle" font-size="7.5">150</text>
<rect x="191.10" y="227.50" width="294.50" height="180.10" fill="none" stroke="#262626" stroke-width="1.05"/>
<text x="187.90" y="232.00" text-anchor="end" font-size="7.9">10<tspan dy="-3.6" font-size="6">1</tspan></text>
<text x="187.90" y="257.73" text-anchor="end" font-size="7.9">10<tspan dy="-3.6" font-size="6">0</tspan></text>
<text x="187.90" y="283.46" text-anchor="end" font-size="7.9">10<tspan dy="-3.6" font-size="6">-1</tspan></text>
<text x="187.90" y="309.19" text-anchor="end" font-size="7.9">10<tspan dy="-3.6" font-size="6">-2</tspan></text>
<text x="187.90" y="334.91" text-anchor="end" font-size="7.9">10<tspan dy="-3.6" font-size="6">-3</tspan></text>
<text x="187.90" y="360.64" text-anchor="end" font-size="7.9">10<tspan dy="-3.6" font-size="6">-4</tspan></text>
<text x="187.90" y="386.37" text-anchor="end" font-size="7.9">10<tspan dy="-3.6" font-size="6">-5</tspan></text>
<text x="187.90" y="412.10" text-anchor="end" font-size="7.9">10<tspan dy="-3.6" font-size="6">-6</tspan></text>
<text x="337.80" y="430.20" text-anchor="middle" font-size="8.4">Number of iterations</text>
<text transform="translate(165.90,318.15) rotate(-90)" text-anchor="middle" font-size="8.6">E<tspan dy="3.6" font-size="6.8">m</tspan></text>
<polyline points="34.10,39.83 36.21,41.68 38.31,43.61 40.41,45.56 42.52,47.43 44.62,49.09 46.73,50.60 48.83,52.06 50.93,53.48 53.04,54.85 55.14,56.19 57.24,57.49 59.35,58.76 61.45,59.99 63.55,61.20 65.66,62.38 67.76,63.54 69.86,64.68 71.97,65.81 74.07,66.92 76.17,68.02 78.28,69.11 80.38,70.20 82.49,71.29 84.59,72.37 86.69,73.46 88.80,74.55 90.90,75.66 93.00,76.77 95.11,77.90 97.21,79.05 99.31,80.21 101.42,81.40 103.52,82.58 105.62,83.76 107.73,84.93 109.83,86.11 111.94,87.28 114.04,88.45 116.14,89.62 118.25,90.78 120.35,91.95 122.45,93.12 124.56,94.28 126.66,95.45 128.76,96.62 130.87,97.78 132.97,98.95 135.07,100.12 137.18,101.30 139.28,102.47 141.39,103.65 143.49,104.83 145.59,106.01 147.70,107.20 149.80,108.39 151.90,109.58 154.01,110.78 156.11,111.99 158.21,113.20 160.32,114.41 162.42,115.62 164.53,116.84 166.63,118.06 168.73,119.29 170.84,120.51 172.94,121.74 175.04,122.96 177.15,124.18 179.25,125.41 181.35,126.63 183.46,127.85 185.56,129.06 187.66,130.28 189.77,131.49 191.87,132.69 193.97,133.89 196.08,135.09 198.18,136.28 200.29,137.46 202.39,138.63 204.49,139.79 206.60,140.95 208.70,142.09 210.80,143.24 212.91,144.38 215.01,145.52 217.11,146.67 219.22,147.82 221.32,148.98 223.43,150.15 225.53,151.33 227.63,152.53 229.74,153.75 231.84,154.98 233.94,156.21 236.05,157.44 238.15,158.67" fill="none" stroke="#ff0000" stroke-width="0.8" marker-start="url(#pgr)" marker-mid="url(#pgr)" marker-end="url(#pgr)"/>
<polyline points="34.10,39.80 36.21,41.14 38.31,42.82 40.41,45.01 42.52,47.23 44.62,49.52 46.73,51.87 48.83,54.25 50.93,56.66 53.04,59.08 55.14,61.49 57.24,63.88 59.35,66.24 61.45,68.55 63.55,70.79 65.66,72.96 67.76,75.05 69.86,77.12 71.97,79.17 74.07,81.20 76.17,83.21 78.28,85.20 80.38,87.17 82.49,89.12 84.59,91.06 86.69,92.98 88.80,94.88 90.90,96.77 93.00,98.65 95.11,100.51 97.21,102.36 99.31,104.19 101.42,106.02 103.52,107.84 105.62,109.64 107.73,111.44 109.83,113.23 111.94,115.01 114.04,116.79 116.14,118.56 118.25,120.32 120.35,122.08 122.45,123.83 124.56,125.58 126.66,127.33 128.76,129.08 130.87,130.83 132.97,132.57 135.07,134.32 137.18,136.07 139.28,137.82 141.39,139.57 143.49,141.32 145.59,143.08 147.70,144.85 149.80,146.62 151.90,148.39 154.01,150.18 156.11,151.97 158.21,153.77 160.32,155.57 162.42,157.39 164.53,159.22" fill="none" stroke="#0000ff" stroke-width="0.8" stroke-dasharray="1 1" marker-start="url(#sqb)" marker-mid="url(#sqb)" marker-end="url(#sqb)"/>
<polyline points="34.10,39.51 36.21,44.58 38.31,48.97 40.41,52.71 42.52,55.98 44.62,58.92 46.73,61.65 48.83,64.22 50.93,66.66 53.04,69.00 55.14,71.29 57.24,73.57 59.35,75.86 61.45,78.20 63.55,80.64 65.66,83.16 67.76,85.70 69.86,88.26 71.97,90.82 74.07,93.37 76.17,95.92 78.28,98.43 80.38,100.92 82.49,103.38 84.59,105.82 86.69,108.25 88.80,110.67 90.90,113.07 93.00,115.48 95.11,117.89 97.21,120.30 99.31,122.72 101.42,125.16 103.52,127.60 105.62,130.05 107.73,132.50 109.83,134.94 111.94,137.37 114.04,139.78 116.14,142.16 118.25,144.52 120.35,146.85 122.45,149.15 124.56,151.43 126.66,153.70 128.76,155.98 130.87,158.26" fill="none" stroke="#00ff00" stroke-width="0.8" marker-start="url(#dig)" marker-mid="url(#dig)" marker-end="url(#dig)"/>
<polyline points="33.40,15.80 35.70,16.20 38.00,26.60 40.30,28.00 42.52,44.33 44.62,48.73 46.73,52.62 48.83,55.24 50.93,57.47 53.04,59.40 55.14,61.10 57.24,62.64 59.35,64.07 61.45,65.43 63.55,66.72 65.66,67.94 67.76,69.11 69.86,70.23 71.97,71.30 74.07,72.33 76.17,73.33 78.28,74.30 80.38,75.24 82.49,76.16 84.59,77.08 86.69,77.98 88.80,78.88 90.90,79.79 93.00,80.71 95.11,81.64 97.21,82.59 99.31,83.57 101.42,84.58 103.52,85.58 105.62,86.57 107.73,87.56 109.83,88.55 111.94,89.53 114.04,90.51 116.14,91.49 118.25,92.46 120.35,93.44 122.45,94.41 124.56,95.38 126.66,96.35 128.76,97.33 130.87,98.30 132.97,99.27 135.07,100.24 137.18,101.20 139.28,102.17 141.39,103.13 143.49,104.09 145.59,105.06 147.70,106.03 149.80,107.01 151.90,107.99 154.01,108.98 156.11,109.97 158.21,110.96 160.32,111.96 162.42,112.95 164.53,113.94 166.63,114.93 168.73,115.91 170.84,116.89 172.94,117.85 175.04,118.81 177.15,119.76 179.25,120.70 181.35,121.64 183.46,122.58 185.56,123.53 187.66,124.47 189.77,125.41 191.87,126.36 193.97,127.32 196.08,128.28 198.18,129.25 200.29,130.23 202.39,131.23 204.49,132.23 206.60,133.25 208.70,134.27 210.80,135.30 212.91,136.33 215.01,137.36 217.11,138.40 219.22,139.42 221.32,140.45 223.43,141.47 225.53,142.48 227.63,143.48 229.74,144.49 231.84,145.51 233.94,146.53 236.05,147.54 238.15,148.53 240.25,149.50 242.36,150.45 244.46,151.37 246.56,152.25 248.67,153.10 250.77,153.93 252.88,154.73 254.98,155.53 257.08,156.31 259.19,157.10 261.29,157.89 263.39,158.70" fill="none" stroke="#00ffff" stroke-width="0.8" marker-start="url(#asc)" marker-mid="url(#asc)" marker-end="url(#asc)"/>
<polyline points="34.10,62.96 36.21,63.42 38.31,63.88 40.41,64.33 42.52,64.77 44.62,65.21 46.73,65.65 48.83,66.09 50.93,66.53 53.04,66.98 55.14,67.43 57.24,67.89 59.35,68.36 61.45,68.83 63.55,69.32 65.66,69.83 67.76,70.35 69.86,70.89 71.97,71.44 74.07,72.02 76.17,72.63 78.28,73.30 80.38,73.99 82.49,74.72 84.59,75.48 86.69,76.25 88.80,77.03 90.90,77.82 93.00,78.61 95.11,79.38 97.21,80.14 99.31,80.87 101.42,81.57 103.52,82.27 105.62,82.95 107.73,83.63 109.83,84.30 111.94,84.96 114.04,85.63 116.14,86.29 118.25,86.96 120.35,87.62 122.45,88.30 124.56,88.98 126.66,89.68 128.76,90.38 130.87,91.10 132.97,91.83 135.07,92.57 137.18,93.33 139.28,94.09 141.39,94.85 143.49,95.62 145.59,96.39 147.70,97.16 149.80,97.93 151.90,98.69 154.01,99.47 156.11,100.25 158.21,101.03 160.32,101.81 162.42,102.59 164.53,103.36 166.63,104.12 168.73,104.86 170.84,105.59 172.94,106.30 175.04,106.99 177.15,107.68 179.25,108.36 181.35,109.03 183.46,109.69 185.56,110.36 187.66,111.02 189.77,111.68 191.87,112.35 193.97,113.02 196.08,113.70 198.18,114.39 200.29,115.10 202.39,115.81 204.49,116.52 206.60,117.24 208.70,117.96 210.80,118.69 212.91,119.42 215.01,120.16 217.11,120.90 219.22,121.64 221.32,122.39 223.43,123.13 225.53,123.89 227.63,124.64 229.74,125.39 231.84,126.15 233.94,126.91 236.05,127.67 238.15,128.43 240.25,129.19 242.36,129.95 244.46,130.71 246.56,131.47 248.67,132.23 250.77,132.99 252.88,133.76 254.98,134.52 257.08,135.27 259.19,136.03 261.29,136.79 263.39,137.54 265.50,138.29 267.60,139.04 269.70,139.79 271.81,140.53 273.91,141.27 276.01,142.01 278.12,142.75 280.22,143.48 282.32,144.20 284.43,144.93 286.53,145.65 288.64,146.37 290.74,147.09 292.84,147.81 294.95,148.53 297.05,149.24 299.15,149.95 301.26,150.67 303.36,151.38 305.46,152.09 307.57,152.80 309.67,153.51 311.77,154.22 313.88,154.93 315.98,155.64 318.09,156.35 320.19,157.06 322.29,157.77 324.40,158.49 326.50,159.20" fill="none" stroke="#ff00ff" stroke-width="0.8" marker-start="url(#cim)" marker-mid="url(#cim)" marker-end="url(#cim)"/>
<polyline points="34.10,110.21 36.21,114.77 38.31,119.41 40.41,123.68 42.52,127.04 44.62,129.97 46.73,132.43 48.83,134.40 50.93,136.10 53.04,137.60 55.14,138.96 57.24,140.24 59.35,141.49 61.45,142.71 63.55,143.87 65.66,144.99 67.76,146.05 69.86,147.08 71.97,148.07 74.07,149.02 76.17,149.95 78.28,150.86 80.38,151.73 82.49,152.57 84.59,153.37 86.69,154.13 88.80,154.83 90.90,155.47 93.00,156.07 95.11,156.63 97.21,157.18 99.31,157.74 101.42,158.30" fill="none" stroke="#ffff00" stroke-width="0.8" marker-start="url(#ciy)" marker-mid="url(#ciy)" marker-end="url(#ciy)"/>
<polyline points="386.56,33.69 387.74,35.14 388.92,36.59 390.10,38.04 391.28,39.50 392.46,40.98 393.64,42.48 394.82,44.04 396.00,45.66 397.18,47.28 398.36,48.88 399.54,50.41 400.72,51.84 401.90,53.16 403.08,54.42 404.26,55.62 405.44,56.77 406.62,57.89 407.80,58.99 408.98,60.08 410.16,61.18 411.34,62.30 412.52,63.44 413.70,64.63 414.88,65.88 416.06,67.19 417.24,68.60 418.42,70.13 419.60,71.77 420.78,73.48 421.96,75.22 423.14,76.95 424.32,78.64 425.50,80.26 426.68,81.76 427.86,83.14 429.04,84.46 430.22,85.74 431.40,86.99 432.58,88.21 433.76,89.40 434.94,90.56 436.12,91.70 437.30,92.81 438.48,93.91 439.66,95.00 440.84,96.07 442.02,97.12 443.20,98.18 444.38,99.22 445.56,100.27 446.74,101.31 447.92,102.36 449.10,103.41 450.28,104.46 451.46,105.48 452.64,106.49 453.82,107.48 455.00,108.46 456.18,109.42 457.36,110.38 458.54,111.34 459.72,112.29 460.90,113.24 462.08,114.19 463.26,115.16 464.44,116.13 465.62,117.11 466.80,118.10 467.98,119.12 469.16,120.15 470.34,121.21 471.52,122.29 472.70,123.40 473.88,124.54 475.06,125.71 476.24,126.90 477.42,128.10 478.60,129.32 479.78,130.55 480.96,131.78 482.14,133.01 483.32,134.25 484.50,135.47 485.68,136.69 486.86,137.89 488.04,139.08 489.22,140.24 490.40,141.38 491.58,142.51 492.76,143.62 493.94,144.72 495.12,145.82 496.30,146.91 497.48,147.99 498.66,149.06 499.84,150.13 501.02,151.20 502.20,152.26 503.38,153.33 504.56,154.39 505.74,155.46 506.92,156.53 508.10,157.60 509.28,158.68" fill="none" stroke="#ff0000" stroke-width="0.8" marker-start="url(#pgr)" marker-mid="url(#pgr)" marker-end="url(#pgr)"/>
<polyline points="390.10,33.68 391.28,37.60 392.46,41.44 393.64,44.66 394.82,47.42 396.00,50.00 397.18,52.57 398.36,55.12 399.54,57.63 400.72,60.10 401.90,62.51 403.08,64.87 404.26,67.16 405.44,69.36 406.62,71.48 407.80,73.50 408.98,75.44 410.16,77.30 411.34,79.09 412.52,80.82 413.70,82.51 414.88,84.16 416.06,85.77 417.24,87.37 418.42,88.95 419.60,90.53 420.78,92.12 421.96,93.72 423.14,95.35 424.32,97.01 425.50,98.71 426.68,100.47 427.86,102.27 429.04,104.11 430.22,105.98 431.40,107.87 432.58,109.78 433.76,111.70 434.94,113.64 436.12,115.58 437.30,117.53 438.48,119.47 439.66,121.40 440.84,123.32 442.02,125.22 443.20,127.10 444.38,128.96 445.56,130.79 446.74,132.58 447.92,134.36 449.10,136.12 450.28,137.87 451.46,139.60 452.64,141.32 453.82,143.03 455.00,144.74 456.18,146.44 457.36,148.14 458.54,149.83 459.72,151.53 460.90,153.23 462.08,154.93 463.26,156.64 464.44,158.36" fill="none" stroke="#00ff00" stroke-width="0.8" stroke-dasharray="1 1" marker-start="url(#sqg)" marker-mid="url(#sqg)" marker-end="url(#sqg)"/>
<polyline points="385.38,36.55 386.56,38.38 387.74,40.21 388.92,42.13 390.10,44.21 391.28,46.51 392.46,48.99 393.64,51.63 394.82,54.38 396.00,57.21 397.18,60.07 398.36,62.94 399.54,65.76 400.72,68.51 401.90,71.24 403.08,73.99 404.26,76.76 405.44,79.52 406.62,82.29 407.80,85.03 408.98,87.76 410.16,90.45 411.34,93.10 412.52,95.70 413.70,98.28 414.88,100.83 416.06,103.38 417.24,105.90 418.42,108.41 419.60,110.91 420.78,113.39 421.96,115.85 423.14,118.31 424.32,120.75 425.50,123.17 426.68,125.59 427.86,127.99 429.04,130.38 430.22,132.76 431.40,135.13 432.58,137.49 433.76,139.84 434.94,142.18 436.12,144.52 437.30,146.84 438.48,149.16 439.66,151.44 440.84,153.68 442.02,155.90 443.20,158.13 444.38,160.37" fill="none" stroke="#ffff00" stroke-width="0.8" marker-start="url(#diy)" marker-mid="url(#diy)" marker-end="url(#diy)"/>
<polyline points="385.40,11.50 386.60,12.50 387.70,28.50 388.90,29.50 390.10,44.50 391.28,49.91 392.46,54.92 393.64,57.01 394.82,58.65 396.00,59.94 397.18,60.98 398.36,61.89 399.54,62.76 400.72,63.69 401.90,64.80 403.08,66.03 404.26,67.28 405.44,68.53 406.62,69.79 407.80,71.06 408.98,72.32 410.16,73.58 411.34,74.84 412.52,76.08 413.70,77.31 414.88,78.52 416.06,79.71 417.24,80.88 418.42,82.02 419.60,83.13 420.78,84.21 421.96,85.27 423.14,86.32 424.32,87.35 425.50,88.36 426.68,89.36 427.86,90.34 429.04,91.32 430.22,92.28 431.40,93.23 432.58,94.18 433.76,95.12 434.94,96.05 436.12,96.97 437.30,97.89 438.48,98.81 439.66,99.73 440.84,100.64 442.02,101.56 443.20,102.48 444.38,103.40 445.56,104.32 446.74,105.25 447.92,106.18 449.10,107.12 450.28,108.06 451.46,109.00 452.64,109.94 453.82,110.87 455.00,111.80 456.18,112.73 457.36,113.65 458.54,114.58 459.72,115.50 460.90,116.42 462.08,117.34 463.26,118.27 464.44,119.19 465.62,120.11 466.80,121.03 467.98,121.95 469.16,122.88 470.34,123.81 471.52,124.73 472.70,125.67 473.88,126.60 475.06,127.54 476.24,128.48 477.42,129.42 478.60,130.37 479.78,131.32 480.96,132.28 482.14,133.25 483.32,134.23 484.50,135.22 485.68,136.21 486.86,137.21 488.04,138.21 489.22,139.20 490.40,140.20 491.58,141.18 492.76,142.17 493.94,143.14 495.12,144.10 496.30,145.05 497.48,145.98 498.66,146.90 499.84,147.81 501.02,148.71 502.20,149.60 503.38,150.48 504.56,151.35 505.74,152.22 506.92,153.09 508.10,153.95 509.28,154.82 510.46,155.68 511.64,156.55 512.82,157.42 514.00,158.30" fill="none" stroke="#0000ff" stroke-width="0.8" marker-start="url(#asb)" marker-mid="url(#asb)" marker-end="url(#asb)"/>
<polyline points="385.38,58.56 386.56,58.63 387.74,58.70 388.92,58.76 390.10,58.83 391.28,58.91 392.46,58.99 393.64,59.08 394.82,59.18 396.00,59.30 397.18,59.45 398.36,59.62 399.54,59.80 400.72,60.01 401.90,60.23 403.08,60.46 404.26,60.71 405.44,60.97 406.62,61.23 407.80,61.50 408.98,61.77 410.16,62.05 411.34,62.36 412.52,62.68 413.70,63.01 414.88,63.37 416.06,63.74 417.24,64.12 418.42,64.52 419.60,64.93 420.78,65.35 421.96,65.79 423.14,66.24 424.32,66.72 425.50,67.22 426.68,67.75 427.86,68.30 429.04,68.86 430.22,69.43 431.40,70.01 432.58,70.59 433.76,71.18 434.94,71.77 436.12,72.36 437.30,72.97 438.48,73.58 439.66,74.20 440.84,74.83 442.02,75.47 443.20,76.11 444.38,76.77 445.56,77.43 446.74,78.10 447.92,78.78 449.10,79.47 450.28,80.17 451.46,80.88 452.64,81.60 453.82,82.34 455.00,83.10 456.18,83.86 457.36,84.63 458.54,85.42 459.72,86.21 460.90,87.00 462.08,87.81 463.26,88.61 464.44,89.42 465.62,90.24 466.80,91.05 467.98,91.86 469.16,92.67 470.34,93.48 471.52,94.28 472.70,95.08 473.88,95.87 475.06,96.65 476.24,97.42 477.42,98.18 478.60,98.94 479.78,99.69 480.96,100.44 482.14,101.19 483.32,101.93 484.50,102.68 485.68,103.42 486.86,104.15 488.04,104.89 489.22,105.63 490.40,106.36 491.58,107.09 492.76,107.82 493.94,108.55 495.12,109.27 496.30,110.00 497.48,110.72 498.66,111.44 499.84,112.16 501.02,112.88 502.20,113.60 503.38,114.31 504.56,115.03 505.74,115.75 506.92,116.46 508.10,117.17 509.28,117.89 510.46,118.60 511.64,119.31 512.82,120.02 514.00,120.73 515.18,121.45 516.36,122.16 517.54,122.87 518.72,123.58 519.90,124.29 521.08,125.00 522.26,125.71 523.44,126.42 524.62,127.14 525.80,127.85 526.98,128.56 528.16,129.28 529.34,129.99 530.52,130.71 531.70,131.42 532.88,132.14 534.06,132.86 535.24,133.58 536.42,134.30 537.60,135.02 538.78,135.74 539.96,136.47 541.14,137.19 542.32,137.92 543.50,138.65 544.68,139.38 545.86,140.11 547.04,140.85 548.22,141.58 549.40,142.32 550.58,143.06 551.76,143.80 552.94,144.54 554.12,145.28 555.30,146.02 556.48,146.76 557.66,147.51 558.84,148.25 560.02,148.99 561.20,149.74 562.38,150.48 563.56,151.23 564.74,151.97 565.92,152.72 567.10,153.46 568.28,154.21 569.46,154.96 570.64,155.70 571.82,156.44 573.00,157.19 574.18,157.93 575.36,158.67" fill="none" stroke="#00ffff" stroke-width="0.8" marker-start="url(#cic)" marker-mid="url(#cic)" marker-end="url(#cic)"/>
<polyline points="385.38,102.23 386.56,105.32 387.74,108.36 388.92,111.32 390.10,114.19 391.28,116.48 392.46,118.36 393.64,120.04 394.82,121.50 396.00,122.74 397.18,123.77 398.36,124.65 399.54,125.42 400.72,126.11 401.90,126.75 403.08,127.34 404.26,127.88 405.44,128.39 406.62,128.87 407.80,129.33 408.98,129.79 410.16,130.25 411.34,130.71 412.52,131.16 413.70,131.60 414.88,132.04 416.06,132.47 417.24,132.89 418.42,133.30 419.60,133.70 420.78,134.08 421.96,134.45 423.14,134.81 424.32,135.15 425.50,135.48 426.68,135.80 427.86,136.11 429.04,136.42 430.22,136.72 431.40,137.01 432.58,137.30 433.76,137.58 434.94,137.85 436.12,138.12 437.30,138.38 438.48,138.64 439.66,138.90 440.84,139.15 442.02,139.39 443.20,139.64 444.38,139.88 445.56,140.12 446.74,140.36 447.92,140.60 449.10,140.83 450.28,141.07 451.46,141.30 452.64,141.53 453.82,141.75 455.00,141.98 456.18,142.20 457.36,142.42 458.54,142.64 459.72,142.86 460.90,143.07 462.08,143.28 463.26,143.49 464.44,143.70 465.62,143.90 466.80,144.10 467.98,144.29 469.16,144.49 470.34,144.68 471.52,144.86 472.70,145.05 473.88,145.23 475.06,145.40 476.24,145.58 477.42,145.74 478.60,145.91 479.78,146.07 480.96,146.23 482.14,146.38 483.32,146.54 484.50,146.69 485.68,146.83 486.86,146.98 488.04,147.12 489.22,147.26 490.40,147.40 491.58,147.54 492.76,147.68 493.94,147.81 495.12,147.94 496.30,148.07 497.48,148.20 498.66,148.33 499.84,148.45 501.02,148.58 502.20,148.70 503.38,148.82 504.56,148.94 505.74,149.06 506.92,149.18 508.10,149.30 509.28,149.41 510.46,149.53 511.64,149.64 512.82,149.76 514.00,149.87 515.18,149.98 516.36,150.10 517.54,150.21 518.72,150.32 519.90,150.43 521.08,150.54 522.26,150.65 523.44,150.77 524.62,150.88 525.80,150.99 526.98,151.09 528.16,151.20 529.34,151.31 530.52,151.41 531.70,151.51 532.88,151.62 534.06,151.72 535.24,151.82 536.42,151.91 537.60,152.01 538.78,152.10 539.96,152.20 541.14,152.29 542.32,152.38 543.50,152.47 544.68,152.56 545.86,152.65 547.04,152.73 548.22,152.82 549.40,152.90 550.58,152.99 551.76,153.07 552.94,153.16 554.12,153.24 555.30,153.32 556.48,153.40 557.66,153.48 558.84,153.56 560.02,153.64 561.20,153.72 562.38,153.80 563.56,153.88 564.74,153.96 565.92,154.04 567.10,154.12 568.28,154.20 569.46,154.28 570.64,154.36 571.82,154.44 573.00,154.52 574.18,154.60 575.36,154.68 576.54,154.76 577.72,154.84 578.90,154.92 580.08,155.01 581.26,155.09 582.44,155.17 583.62,155.25 584.80,155.34 585.98,155.42 587.16,155.50 588.34,155.59 589.52,155.67 590.70,155.75 591.88,155.84 593.06,155.92 594.24,156.00 595.42,156.09 596.60,156.17 597.78,156.25 598.96,156.34 600.14,156.42 601.32,156.50 602.50,156.59 603.68,156.67 604.86,156.75 606.04,156.84 607.22,156.92 608.40,157.00 609.58,157.09 610.76,157.17 611.94,157.25 613.12,157.34 614.30,157.42 615.48,157.50 616.66,157.59 617.84,157.67 619.02,157.75 620.20,157.84 621.38,157.92 622.56,158.00 623.74,158.09 624.92,158.17 626.10,158.25 627.28,158.34 628.46,158.42 629.64,158.50" fill="none" stroke="#ff00ff" stroke-width="0.8" marker-start="url(#cim)" marker-mid="url(#cim)" marker-end="url(#cim)"/>
<polyline points="194.93,258.53 196.90,260.39 198.86,262.25 200.83,264.12 202.79,266.08 204.76,268.11 206.72,270.09 208.69,271.91 210.65,273.46 212.62,274.78 214.58,275.99 216.55,277.19 218.51,278.45 220.48,279.72 222.45,281.00 224.41,282.27 226.38,283.54 228.34,284.80 230.31,286.06 232.27,287.30 234.24,288.53 236.20,289.75 238.17,290.96 240.13,292.17 242.10,293.37 244.06,294.57 246.03,295.77 247.99,296.96 249.96,298.14 251.93,299.33 253.89,300.51 255.86,301.69 257.82,302.86 259.79,304.03 261.75,305.19 263.72,306.34 265.68,307.49 267.65,308.65 269.61,309.80 271.58,310.96 273.54,312.12 275.51,313.29 277.47,314.47 279.44,315.66 281.41,316.86 283.37,318.08 285.34,319.32 287.30,320.57 289.27,321.82 291.23,323.07 293.20,324.31 295.16,325.55 297.13,326.76 299.09,327.96 301.06,329.13 303.02,330.28 304.99,331.42 306.95,332.55 308.92,333.67 310.89,334.78 312.85,335.89 314.82,336.98 316.78,338.07 318.75,339.15 320.71,340.23 322.68,341.31 324.64,342.39 326.61,343.46 328.57,344.54 330.54,345.61 332.50,346.69 334.47,347.77 336.43,348.86 338.40,349.96 340.37,351.06 342.33,352.17 344.30,353.28 346.26,354.39 348.23,355.49 350.19,356.59 352.16,357.68 354.12,358.76 356.09,359.85 358.05,360.94 360.02,362.03 361.98,363.14 363.95,364.25 365.91,365.37 367.88,366.51 369.85,367.66 371.81,368.84 373.78,370.04 375.74,371.26 377.71,372.51 379.67,373.78 381.64,375.11 383.60,376.52 385.57,377.97 387.53,379.45 389.50,380.94 391.46,382.40" fill="none" stroke="#0000ff" stroke-width="0.8" marker-start="url(#pgb)" marker-mid="url(#pgb)" marker-end="url(#pgb)"/>
<polyline points="194.93,257.16 196.90,259.49 198.86,261.79 200.83,264.13 202.79,266.54 204.76,269.07 206.72,271.68 208.69,274.29 210.65,276.84 212.62,279.41 214.58,281.98 216.55,284.48 218.51,286.85 220.48,289.01 222.45,290.98 224.41,292.82 226.38,294.58 228.34,296.30 230.31,298.02 232.27,299.79 234.24,301.61 236.20,303.43 238.17,305.25 240.13,307.07 242.10,308.90 244.06,310.73 246.03,312.55 247.99,314.38 249.96,316.21 251.93,318.04 253.89,319.88 255.86,321.71 257.82,323.54 259.79,325.38 261.75,327.21 263.72,329.05 265.68,330.89 267.65,332.72 269.61,334.56 271.58,336.40 273.54,338.24 275.51,340.08 277.47,341.92 279.44,343.76 281.41,345.61 283.37,347.45 285.34,349.29 287.30,351.13 289.27,352.97 291.23,354.81 293.20,356.66 295.16,358.50 297.13,360.34 299.09,362.18 301.06,364.02 303.02,365.87 304.99,367.71 306.95,369.55 308.92,371.39 310.89,373.23 312.85,375.07 314.82,376.91 316.78,378.74 318.75,380.58 320.71,382.42" fill="none" stroke="#00ff00" stroke-width="0.8" stroke-dasharray="1 1" marker-start="url(#sqg)" marker-mid="url(#sqg)" marker-end="url(#sqg)"/>
<polyline points="192.97,259.84 194.93,262.57 196.90,265.48 198.86,269.31 200.83,275.11 202.79,279.82 204.76,282.62 206.72,284.84 208.69,286.76 210.65,288.64 212.62,290.77 214.58,293.05 216.55,295.37 218.51,297.70 220.48,300.05 222.45,302.41 224.41,304.77 226.38,307.14 228.34,309.51 230.31,311.86 232.27,314.17 234.24,316.43 236.20,318.69 238.17,320.97 240.13,323.29 242.10,325.69 244.06,328.18 246.03,330.79 247.99,333.67 249.96,336.82 251.93,339.86 253.89,342.60 255.86,345.23 257.82,347.76 259.79,350.23 261.75,352.64 263.72,355.02 265.68,357.38 267.65,359.75 269.61,362.13 271.58,364.48 273.54,366.80 275.51,369.11 277.47,371.40 279.44,373.68 281.41,375.95 283.37,378.23 285.34,380.51 287.30,382.80" fill="none" stroke="#ffff00" stroke-width="0.8" marker-start="url(#diy)" marker-mid="url(#diy)" marker-end="url(#diy)"/>
<polyline points="193.00,235.50 194.90,238.50 196.90,251.00 198.90,252.50 200.83,268.06 202.79,272.85 204.76,277.09 206.72,278.92 208.69,279.97 210.65,280.73 212.62,281.50 214.58,282.59 216.55,284.14 218.51,286.01 220.48,287.99 222.45,289.87 224.41,291.44 226.38,292.73 228.34,293.94 230.31,295.08 232.27,296.15 234.24,297.17 236.20,298.15 238.17,299.09 240.13,300.01 242.10,300.90 244.06,301.79 246.03,302.67 247.99,303.57 249.96,304.48 251.93,305.42 253.89,306.40 255.86,307.39 257.82,308.37 259.79,309.36 261.75,310.34 263.72,311.32 265.68,312.30 267.65,313.28 269.61,314.27 271.58,315.25 273.54,316.24 275.51,317.23 277.47,318.22 279.44,319.22 281.41,320.22 283.37,321.23 285.34,322.24 287.30,323.26 289.27,324.28 291.23,325.30 293.20,326.32 295.16,327.33 297.13,328.34 299.09,329.34 301.06,330.33 303.02,331.33 304.99,332.32 306.95,333.30 308.92,334.29 310.89,335.27 312.85,336.25 314.82,337.24 316.78,338.21 318.75,339.19 320.71,340.17 322.68,341.14 324.64,342.11 326.61,343.08 328.57,344.05 330.54,345.02 332.50,345.99 334.47,346.96 336.43,347.92 338.40,348.89 340.37,349.85 342.33,350.81 344.30,351.78 346.26,352.74 348.23,353.70 350.19,354.66 352.16,355.62 354.12,356.57 356.09,357.53 358.05,358.49 360.02,359.45 361.98,360.40 363.95,361.36 365.91,362.31 367.88,363.27 369.85,364.23 371.81,365.18 373.78,366.14 375.74,367.09 377.71,368.05 379.67,369.01 381.64,369.96 383.60,370.92 385.57,371.88 387.53,372.83 389.50,373.79 391.46,374.75 393.43,375.71 395.39,376.67 397.36,377.63 399.33,378.59 401.29,379.55 403.26,380.52 405.22,381.48 407.19,382.44" fill="none" stroke="#ff0000" stroke-width="0.8" marker-start="url(#asr)" marker-mid="url(#asr)" marker-end="url(#asr)"/>
<polyline points="192.97,282.65 194.93,282.89 196.90,283.11 198.86,283.34 200.83,283.57 202.79,283.81 204.76,284.06 206.72,284.33 208.69,284.61 210.65,284.92 212.62,285.25 214.58,285.61 216.55,285.99 218.51,286.38 220.48,286.80 222.45,287.24 224.41,287.70 226.38,288.18 228.34,288.68 230.31,289.19 232.27,289.73 234.24,290.32 236.20,290.98 238.17,291.68 240.13,292.42 242.10,293.19 244.06,293.98 246.03,294.77 247.99,295.55 249.96,296.32 251.93,297.06 253.89,297.77 255.86,298.44 257.82,299.10 259.79,299.75 261.75,300.40 263.72,301.03 265.68,301.66 267.65,302.29 269.61,302.92 271.58,303.55 273.54,304.18 275.51,304.81 277.47,305.46 279.44,306.11 281.41,306.77 283.37,307.44 285.34,308.10 287.30,308.76 289.27,309.43 291.23,310.09 293.20,310.76 295.16,311.43 297.13,312.10 299.09,312.77 301.06,313.45 303.02,314.13 304.99,314.82 306.95,315.50 308.92,316.20 310.89,316.89 312.85,317.59 314.82,318.30 316.78,319.01 318.75,319.73 320.71,320.45 322.68,321.18 324.64,321.92 326.61,322.67 328.57,323.43 330.54,324.21 332.50,324.99 334.47,325.79 336.43,326.59 338.40,327.40 340.37,328.21 342.33,329.02 344.30,329.83 346.26,330.64 348.23,331.44 350.19,332.25 352.16,333.04 354.12,333.83 356.09,334.60 358.05,335.37 360.02,336.12 361.98,336.86 363.95,337.60 365.91,338.34 367.88,339.06 369.85,339.79 371.81,340.51 373.78,341.23 375.74,341.95 377.71,342.66 379.67,343.38 381.64,344.09 383.60,344.80 385.57,345.50 387.53,346.20 389.50,346.89 391.46,347.59 393.43,348.29 395.39,349.00 397.36,349.72 399.33,350.45 401.29,351.19 403.26,351.94 405.22,352.71 407.19,353.49 409.15,354.27 411.12,355.07 413.08,355.86 415.05,356.66 417.01,357.45 418.98,358.25 420.94,359.04 422.91,359.82 424.87,360.59 426.84,361.35 428.81,362.10 430.77,362.84 432.74,363.57 434.70,364.30 436.67,365.03 438.63,365.75 440.60,366.46 442.56,367.17 444.53,367.88 446.49,368.59 448.46,369.29 450.42,369.99 452.39,370.68 454.35,371.38 456.32,372.07 458.29,372.76 460.25,373.45 462.22,374.14 464.18,374.83 466.15,375.51 468.11,376.20 470.08,376.89 472.04,377.58 474.01,378.26 475.97,378.95 477.94,379.65 479.90,380.34 481.87,381.03 483.83,381.73 485.80,382.43" fill="none" stroke="#00ffff" stroke-width="0.8" marker-start="url(#cic)" marker-mid="url(#cic)" marker-end="url(#cic)"/>
<polyline points="192.97,327.93 194.93,331.97 196.90,335.77 198.86,339.23 200.83,342.38 202.79,344.79 204.76,346.69 206.72,348.40 208.69,349.94 210.65,351.32 212.62,352.54 214.58,353.60 216.55,354.53 218.51,355.32 220.48,356.04 222.45,356.68 224.41,357.27 226.38,357.82 228.34,358.33 230.31,358.81 232.27,359.27 234.24,359.73 236.20,360.19 238.17,360.67 240.13,361.16 242.10,361.67 244.06,362.18 246.03,362.68 247.99,363.18 249.96,363.67 251.93,364.14 253.89,364.60 255.86,365.03 257.82,365.43 259.79,365.79 261.75,366.12 263.72,366.43 265.68,366.72 267.65,366.99 269.61,367.26 271.58,367.51 273.54,367.74 275.51,367.98 277.47,368.20 279.44,368.43 281.41,368.65 283.37,368.87 285.34,369.09 287.30,369.32 289.27,369.55 291.23,369.78 293.20,370.01 295.16,370.24 297.13,370.47 299.09,370.69 301.06,370.92 303.02,371.14 304.99,371.36 306.95,371.58 308.92,371.80 310.89,372.02 312.85,372.23 314.82,372.44 316.78,372.65 318.75,372.86 320.71,373.06 322.68,373.26 324.64,373.46 326.61,373.66 328.57,373.86 330.54,374.05 332.50,374.24 334.47,374.44 336.43,374.63 338.40,374.82 340.37,375.01 342.33,375.19 344.30,375.38 346.26,375.56 348.23,375.75 350.19,375.93 352.16,376.11 354.12,376.29 356.09,376.47 358.05,376.64 360.02,376.82 361.98,376.99 363.95,377.16 365.91,377.33 367.88,377.50 369.85,377.67 371.81,377.84 373.78,378.00 375.74,378.16 377.71,378.32 379.67,378.48 381.64,378.64 383.60,378.79 385.57,378.94 387.53,379.09 389.50,379.24 391.46,379.39 393.43,379.53 395.39,379.67 397.36,379.81 399.33,379.95 401.29,380.08 403.26,380.22 405.22,380.35 407.19,380.48 409.15,380.62 411.12,380.75 413.08,380.88 415.05,381.01 417.01,381.14 418.98,381.27 420.94,381.40 422.91,381.53 424.87,381.66 426.84,381.79 428.81,381.92 430.77,382.05 432.74,382.19" fill="none" stroke="#ff00ff" stroke-width="0.8" marker-start="url(#cim)" marker-mid="url(#cim)" marker-end="url(#cim)"/>
<rect x="243.40" y="11.40" width="76.10" height="58.40" fill="#fff" stroke="#262626" stroke-width="0.9"/>
<polyline points="247.80,17.35 259.15,17.35 270.50,17.35" fill="none" stroke="#ff0000" stroke-width="0.8" marker-mid="url(#pgr)"/>
<text x="272.80" y="19.85" font-size="6.9">PLZL Alg. 3.1</text>
<polyline points="247.80,26.67 259.15,26.67 270.50,26.67" fill="none" stroke="#0000ff" stroke-width="0.8" stroke-dasharray="1 1" marker-mid="url(#sqb)"/>
<text x="272.80" y="29.17" font-size="6.9">OAURN Alg. 2</text>
<polyline points="247.80,35.99 259.15,35.99 270.50,35.99" fill="none" stroke="#00ff00" stroke-width="0.8" marker-mid="url(#dig)"/>
<text x="272.80" y="38.49" font-size="6.9">OAURN Alg. 1</text>
<polyline points="247.80,45.31 259.15,45.31 270.50,45.31" fill="none" stroke="#00ffff" stroke-width="0.8" marker-mid="url(#asc)"/>
<text x="272.80" y="47.81" font-size="6.9">HVHA Alg. 3.2</text>
<polyline points="247.80,54.63 259.15,54.63 270.50,54.63" fill="none" stroke="#ff00ff" stroke-width="0.8" marker-mid="url(#cim)"/>
<text x="272.80" y="57.13" font-size="6.9">VTA Alg. 1</text>
<polyline points="247.80,63.95 259.15,63.95 270.50,63.95" fill="none" stroke="#ffff00" stroke-width="0.8" marker-mid="url(#ciy)"/>
<text x="272.80" y="66.45" font-size="6.9">OUPN Alg. 3.2</text>
<rect x="596.20" y="11.40" width="75.60" height="58.90" fill="#fff" stroke="#262626" stroke-width="0.9"/>
<polyline points="600.60,17.35 611.95,17.35 623.30,17.35" fill="none" stroke="#ff0000" stroke-width="0.8" marker-mid="url(#pgr)"/>
<text x="625.60" y="19.85" font-size="6.9">PLZL Alg. 3.1</text>
<polyline points="600.60,26.77 611.95,26.77 623.30,26.77" fill="none" stroke="#00ff00" stroke-width="0.8" stroke-dasharray="1 1" marker-mid="url(#sqg)"/>
<text x="625.60" y="29.27" font-size="6.9">OAURN Alg. 1</text>
<polyline points="600.60,36.19 611.95,36.19 623.30,36.19" fill="none" stroke="#ffff00" stroke-width="0.8" marker-mid="url(#diy)"/>
<text x="625.60" y="38.69" font-size="6.9">OUPN Alg. 3.2</text>
<polyline points="600.60,45.61 611.95,45.61 623.30,45.61" fill="none" stroke="#0000ff" stroke-width="0.8" marker-mid="url(#asb)"/>
<text x="625.60" y="48.11" font-size="6.9">OAUEN Alg. 2</text>
<polyline points="600.60,55.03 611.95,55.03 623.30,55.03" fill="none" stroke="#00ffff" stroke-width="0.8" marker-mid="url(#cic)"/>
<text x="625.60" y="57.53" font-size="6.9">HVHA Alg.3.1</text>
<polyline points="600.60,64.45 611.95,64.45 623.30,64.45" fill="none" stroke="#ff00ff" stroke-width="0.8" marker-mid="url(#cim)"/>
<text x="625.60" y="66.95" font-size="6.9">VTA Alg. 1</text>
<rect x="402.80" y="234.50" width="76.20" height="58.70" fill="#fff" stroke="#262626" stroke-width="0.9"/>
<polyline points="407.20,240.45 418.55,240.45 429.90,240.45" fill="none" stroke="#0000ff" stroke-width="0.8" marker-mid="url(#pgb)"/>
<text x="432.20" y="242.95" font-size="6.9">OAURN Alg. 2</text>
<polyline points="407.20,249.83 418.55,249.83 429.90,249.83" fill="none" stroke="#00ff00" stroke-width="0.8" stroke-dasharray="1 1" marker-mid="url(#sqg)"/>
<text x="432.20" y="252.33" font-size="6.9">OAURN Alg. 1</text>
<polyline points="407.20,259.21 418.55,259.21 429.90,259.21" fill="none" stroke="#ffff00" stroke-width="0.8" marker-mid="url(#diy)"/>
<text x="432.20" y="261.71" font-size="6.9">OUPN Alg. 3.2</text>
<polyline points="407.20,268.59 418.55,268.59 429.90,268.59" fill="none" stroke="#ff0000" stroke-width="0.8" marker-mid="url(#asr)"/>
<text x="432.20" y="271.09" font-size="6.9">PLZL Alg. 3.1</text>
<polyline points="407.20,277.97 418.55,277.97 429.90,277.97" fill="none" stroke="#00ffff" stroke-width="0.8" marker-mid="url(#cic)"/>
<text x="432.20" y="280.47" font-size="6.9">HVHA Alg. 3.1</text>
<polyline points="407.20,287.35 418.55,287.35 429.90,287.35" fill="none" stroke="#ff00ff" stroke-width="0.8" marker-mid="url(#cim)"/>
<text x="432.20" y="289.85" font-size="6.9">VTA Alg. 1</text>
</svg></div>
</body></html>
